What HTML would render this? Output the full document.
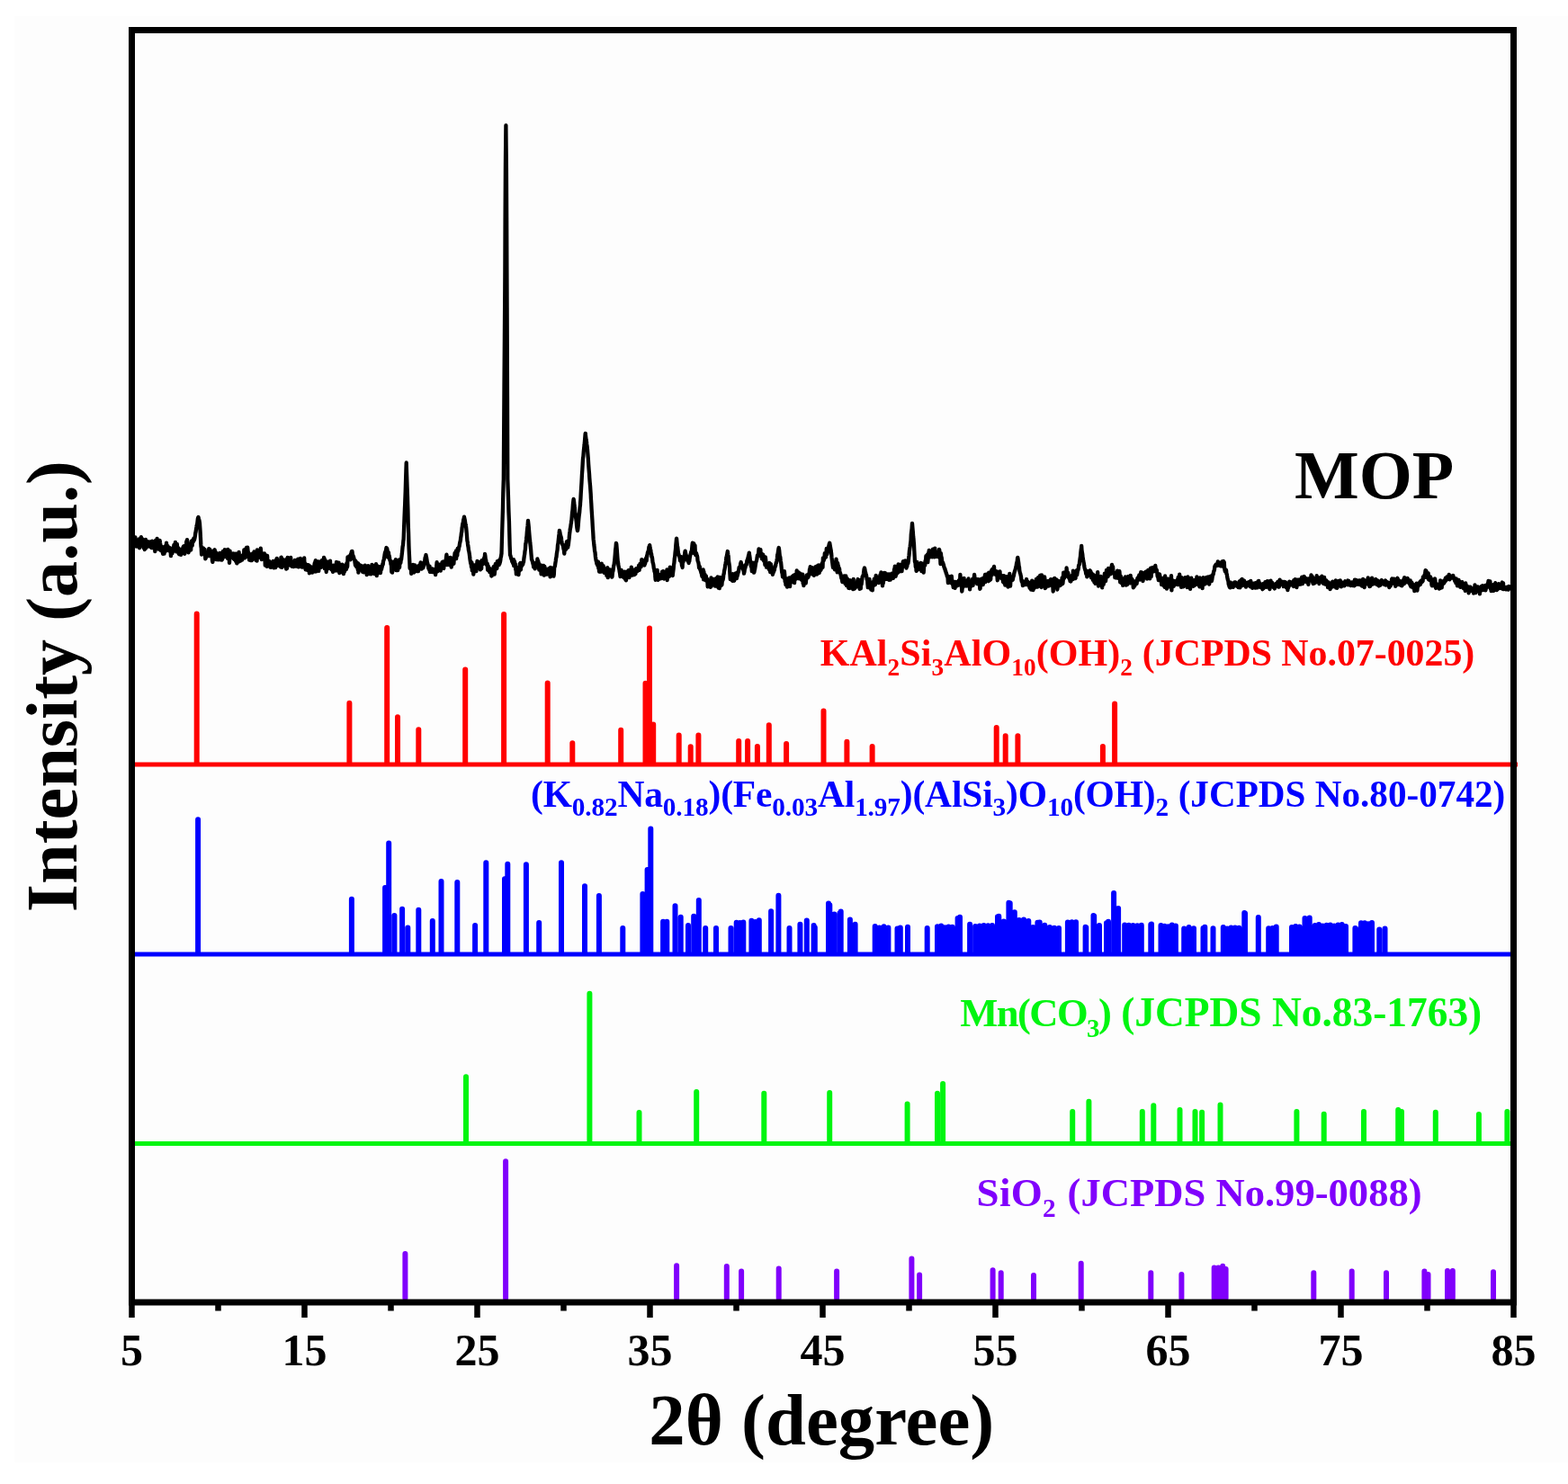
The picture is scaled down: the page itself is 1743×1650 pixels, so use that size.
<!DOCTYPE html>
<html><head><meta charset="utf-8"><style>
html,body{margin:0;padding:0;background:#fff;}
body{width:1743px;height:1650px;overflow:hidden;}
svg{display:block;}
text{font-family:"Liberation Serif","Times New Roman",serif;font-weight:bold;}
</style></head><body>
<svg width="1743" height="1650" viewBox="0 0 1743 1650">
<rect x="0" y="0" width="1743" height="1650" fill="#ffffff"/>
<rect x="16" y="18" width="1727" height="1608" fill="#fdfdfd"/>

<path d="M150 850H1687" stroke="#ff0000" stroke-width="5" fill="none"/>
<path d="M150 1061H1679" stroke="#0000ff" stroke-width="5" fill="none"/>
<path d="M150 1271.5H1679" stroke="#00f510" stroke-width="5" fill="none"/>
<path d="M218.7 847.5V682.6M388.4 847.5V781.8M430.2 847.5V698.1M442.0 847.5V797.2M465.3 847.5V811.3M517.2 847.5V744.6M560.1 847.5V683.0M608.7 847.5V759.4M636.3 847.5V826.2M690.2 847.5V811.7M717.5 847.5V759.7M722.0 847.5V698.5M726.2 847.5V805.5M754.7 847.5V817.5M767.7 847.5V830.3M776.4 847.5V817.5M821.2 847.5V824.0M831.1 847.5V824.0M841.9 847.5V830.0M854.8 847.5V806.3M874.1 847.5V827.0M915.5 847.5V790.5M941.4 847.5V824.8M969.6 847.5V830.0M1107.7 847.5V809.0M1117.7 847.5V818.2M1131.4 847.5V818.2M1225.9 847.5V830.0M1239.1 847.5V782.6" stroke="#ff0000" stroke-width="6" stroke-linecap="round" fill="none"/>
<path d="M220.1 1058.5V911.2M390.9 1058.5V999.8M428.1 1058.5V987.0M432.2 1058.5V937.4M438.4 1058.5V1018.0M447.1 1058.5V1010.7M453.3 1058.5V1031.4M465.3 1058.5V1011.8M480.8 1058.5V1024.0M490.5 1058.5V980.0M508.3 1058.5V981.0M528.1 1058.5V1029.0M540.3 1058.5V959.2M561.0 1058.5V977.3M564.3 1058.5V960.8M584.9 1058.5V961.2M599.2 1058.5V1025.9M624.0 1058.5V959.2M650.0 1058.5V985.2M665.9 1058.5V996.0M692.3 1058.5V1032.0M714.4 1058.5V993.9M719.6 1058.5V967.0M723.3 1058.5V921.6M737.1 1058.5V1024.8M741.3 1058.5V1024.8M750.5 1058.5V1007.3M756.7 1058.5V1019.7M765.0 1058.5V1029.0M771.2 1058.5V1018.7M776.8 1058.5V1001.0M784.2 1058.5V1032.0M796.0 1058.5V1032.0M812.5 1058.5V1032.0M818.7 1058.5V1025.8M822.5 1058.5V1025.9M826.3 1058.5V1025.4M835.4 1058.5V1023.7M839.6 1058.5V1025.1M843.8 1058.5V1023.2M857.1 1058.5V1013.3M865.4 1058.5V995.7M877.5 1058.5V1031.9M889.4 1058.5V1027.7M896.8 1058.5V1023.6M904.6 1058.5V1028.9M905.8 1058.5V1031.2M921.0 1058.5V1004.6M922.3 1058.5V1006.3M927.4 1058.5V1016.4M933.5 1058.5V1015.2M934.7 1058.5V1013.4M944.9 1058.5V1022.6M950.6 1058.5V1027.7M972.7 1058.5V1030.0M977.6 1058.5V1031.4M982.5 1058.5V1030.2M987.4 1058.5V1031.5M997.5 1058.5V1032.5M1000.8 1058.5V1031.4M1009.0 1058.5V1030.8M1030.7 1058.5V1031.9M1042.0 1058.5V1030.2M1046.2 1058.5V1029.5M1050.3 1058.5V1031.2M1054.4 1058.5V1030.6M1058.6 1058.5V1030.7M1064.6 1058.5V1021.1M1067.0 1058.5V1019.7M1078.1 1058.5V1027.7M1084.2 1058.5V1029.9M1088.9 1058.5V1029.6M1093.6 1058.5V1029.0M1098.3 1058.5V1029.2M1103.0 1058.5V1028.9M1109.0 1058.5V1019.3M1110.3 1058.5V1018.7M1115.8 1058.5V1024.6M1121.4 1058.5V1003.7M1122.7 1058.5V1004.3M1127.8 1058.5V1014.3M1132.8 1058.5V1023.1M1138.0 1058.5V1022.6M1143.3 1058.5V1023.9M1148.3 1058.5V1031.0M1153.4 1058.5V1025.8M1155.7 1058.5V1025.4M1161.3 1058.5V1028.8M1166.9 1058.5V1031.0M1172.0 1058.5V1031.8M1177.0 1058.5V1032.0M1186.9 1058.5V1025.4M1191.5 1058.5V1025.2M1196.0 1058.5V1025.3M1206.6 1058.5V1030.7M1207.3 1058.5V1031.2M1215.5 1058.5V1017.9M1216.2 1058.5V1018.6M1222.0 1058.5V1029.0M1230.0 1058.5V1026.2M1232.0 1058.5V1024.8M1238.1 1058.5V993.0M1243.1 1058.5V1010.0M1250.2 1058.5V1028.6M1254.8 1058.5V1028.8M1259.5 1058.5V1028.9M1264.2 1058.5V1029.2M1268.8 1058.5V1028.7M1279.3 1058.5V1028.1M1280.0 1058.5V1027.4M1290.5 1058.5V1028.9M1294.6 1058.5V1029.7M1298.7 1058.5V1030.3M1302.8 1058.5V1028.4M1306.9 1058.5V1029.6M1316.2 1058.5V1032.4M1321.6 1058.5V1030.9M1327.0 1058.5V1032.2M1337.5 1058.5V1032.0M1339.3 1058.5V1030.8M1348.5 1058.5V1032.3M1359.8 1058.5V1030.9M1364.2 1058.5V1032.5M1368.5 1058.5V1031.5M1372.9 1058.5V1031.4M1377.3 1058.5V1031.7M1383.3 1058.5V1015.1M1384.0 1058.5V1015.5M1398.8 1058.5V1020.0M1410.2 1058.5V1032.3M1414.5 1058.5V1031.9M1418.7 1058.5V1030.4M1436.0 1058.5V1030.9M1440.2 1058.5V1030.0M1444.5 1058.5V1030.5M1450.5 1058.5V1020.9M1455.7 1058.5V1020.4M1461.7 1058.5V1029.0M1466.0 1058.5V1028.1M1470.3 1058.5V1029.4M1474.6 1058.5V1028.8M1478.8 1058.5V1028.4M1483.1 1058.5V1029.5M1487.4 1058.5V1028.6M1491.7 1058.5V1027.9M1496.0 1058.5V1029.9M1506.4 1058.5V1031.9M1507.0 1058.5V1032.2M1513.0 1058.5V1026.3M1517.0 1058.5V1026.3M1521.0 1058.5V1027.3M1525.0 1058.5V1026.0M1533.3 1058.5V1033.4M1539.5 1058.5V1032.6" stroke="#0000ff" stroke-width="6" stroke-linecap="round" fill="none"/>
<path d="M518.0 1269.0V1197.2M655.4 1269.0V1104.7M710.5 1269.0V1237.0M774.2 1269.0V1214.0M849.3 1269.0V1215.7M922.2 1269.0V1215.0M1008.6 1269.0V1227.5M1042.0 1269.0V1215.7M1048.1 1269.0V1205.0M1192.2 1269.0V1236.0M1210.4 1269.0V1224.7M1269.8 1269.0V1236.0M1282.3 1269.0V1229.2M1311.5 1269.0V1234.1M1328.5 1269.0V1236.0M1336.1 1269.0V1236.8M1356.5 1269.0V1228.4M1441.4 1269.0V1236.0M1471.7 1269.0V1238.7M1516.0 1269.0V1236.0M1554.2 1269.0V1234.1M1558.0 1269.0V1236.0M1595.8 1269.0V1236.8M1643.9 1269.0V1239.0M1675.4 1269.0V1236.0" stroke="#00f510" stroke-width="6" stroke-linecap="round" fill="none"/>
<path d="M450.4 1443.5V1394.0M562.1 1443.5V1291.3M752.1 1443.5V1407.2M807.8 1443.5V1408.0M824.1 1443.5V1413.6M865.7 1443.5V1410.6M930.1 1443.5V1413.6M1013.4 1443.5V1399.6M1022.1 1443.5V1417.4M1103.6 1443.5V1412.2M1112.7 1443.5V1415.3M1149.0 1443.5V1418.0M1201.7 1443.5V1404.7M1279.3 1443.5V1415.3M1313.4 1443.5V1417.0M1349.7 1443.5V1409.6M1354.3 1443.5V1409.6M1359.2 1443.5V1407.7M1362.6 1443.5V1411.0M1460.3 1443.5V1415.3M1502.7 1443.5V1413.4M1541.0 1443.5V1415.3M1583.4 1443.5V1413.4M1587.5 1443.5V1417.0M1609.0 1443.5V1413.0M1614.8 1443.5V1413.0M1660.0 1443.5V1414.3" stroke="#8000fc" stroke-width="6" stroke-linecap="round" fill="none"/>
<polyline points="150.0,604.7 150.4,597.5 150.8,605.0 151.2,602.5 151.5,607.6 151.9,605.0 152.3,601.9 152.7,603.3 153.1,604.3 153.5,603.1 153.8,605.7 154.2,608.2 154.6,599.3 155.0,603.9 155.0,609.3 155.4,607.6 155.8,601.4 156.1,599.8 156.5,599.2 156.9,597.1 157.3,605.8 157.7,603.1 158.1,601.9 158.4,599.4 158.8,603.0 159.2,603.3 159.6,609.2 160.0,605.0 160.4,607.1 160.8,611.0 161.1,609.0 161.5,605.7 161.9,599.8 162.0,609.8 162.3,608.3 162.7,605.6 163.1,606.0 163.4,602.6 163.8,602.4 164.2,602.2 164.6,607.1 165.0,607.5 165.4,607.1 165.7,607.3 166.1,606.9 166.5,607.3 166.9,602.4 167.3,606.5 167.7,608.4 168.0,606.3 168.4,609.0 168.8,604.3 169.2,601.6 169.6,609.2 170.0,604.9 170.0,608.3 170.4,608.5 170.7,609.3 171.1,608.4 171.5,606.2 171.9,603.4 172.3,613.2 172.7,608.0 173.0,600.9 173.4,603.1 173.8,602.4 174.2,605.3 174.6,598.8 175.0,606.3 175.3,610.2 175.7,606.9 176.1,610.6 176.5,608.4 176.9,601.1 177.3,609.2 177.6,600.9 178.0,603.6 178.4,605.9 178.8,612.1 179.2,609.3 179.6,609.1 180.0,607.8 180.0,611.9 180.3,612.0 180.7,613.9 181.1,615.8 181.5,611.7 181.9,610.7 182.3,610.7 182.6,615.6 183.0,609.0 183.4,607.5 183.8,613.3 184.2,610.5 184.6,607.5 184.9,606.6 185.0,603.7 185.3,610.7 185.7,607.3 186.1,611.4 186.5,607.1 186.9,610.5 187.2,611.7 187.6,612.3 188.0,611.9 188.4,612.1 188.8,609.2 189.2,609.4 189.6,611.4 189.9,618.2 190.3,614.5 190.7,611.8 191.0,611.2 191.1,612.8 191.5,615.3 191.9,609.4 192.2,613.4 192.6,610.5 193.0,609.6 193.4,605.8 193.8,606.6 194.2,605.1 194.5,609.2 194.9,602.8 195.0,610.9 195.3,610.1 195.7,610.0 196.1,613.4 196.5,610.9 196.8,604.9 197.2,610.7 197.6,612.0 198.0,609.8 198.4,609.2 198.8,615.8 199.2,616.2 199.5,613.0 199.9,613.2 200.0,612.2 200.3,612.8 200.7,613.5 201.1,616.8 201.5,610.9 201.8,611.3 202.2,615.6 202.6,612.4 203.0,612.4 203.0,614.6 203.4,608.7 203.8,608.7 204.1,607.4 204.5,607.2 204.9,614.2 205.3,615.7 205.7,611.0 206.1,609.8 206.4,612.2 206.8,612.4 207.0,608.5 207.2,602.1 207.6,607.1 208.0,600.2 208.4,608.0 208.8,605.9 209.1,607.1 209.5,614.4 209.9,611.6 210.3,608.7 210.7,607.6 211.1,607.8 211.4,606.5 211.8,604.9 212.2,611.5 212.6,602.0 213.0,603.3 213.0,604.2 213.4,606.1 213.7,606.6 214.1,600.7 214.5,602.5 214.9,602.2 215.3,598.7 215.7,600.9 216.0,600.0 216.0,600.1 216.4,598.6 216.8,596.5 217.2,592.9 217.6,591.4 218.0,588.6 218.4,586.0 218.5,585.0 218.7,584.1 219.1,583.3 219.5,579.9 219.9,576.6 220.3,575.6 220.5,575.0 220.7,575.8 221.0,578.2 221.4,578.2 221.8,580.7 222.0,582.0 222.2,585.1 222.6,591.0 223.0,598.6 223.3,605.2 223.5,608.0 223.7,608.5 224.1,616.7 224.5,610.7 224.9,613.5 225.3,611.6 225.6,609.3 226.0,609.5 226.4,615.1 226.8,613.5 227.2,612.5 227.6,610.8 228.0,615.3 228.0,615.4 228.3,621.4 228.7,620.6 229.1,618.1 229.5,615.6 229.9,615.9 230.3,614.1 230.6,616.4 231.0,617.5 231.4,618.1 231.8,616.8 232.0,614.4 232.2,610.2 232.6,615.3 232.9,618.1 233.3,611.0 233.7,614.8 234.1,616.3 234.5,616.5 234.9,617.9 235.2,616.1 235.6,617.1 236.0,623.5 236.4,624.9 236.8,614.9 237.2,612.3 237.6,618.4 237.9,614.1 238.3,612.8 238.7,611.3 239.1,615.8 239.5,615.0 239.9,613.9 240.0,618.2 240.2,622.1 240.6,620.1 241.0,621.3 241.4,616.9 241.8,620.5 242.2,619.5 242.5,622.4 242.9,619.4 243.3,617.3 243.7,620.2 244.1,615.0 244.5,618.9 244.8,622.3 245.2,618.0 245.6,620.6 246.0,615.2 246.4,622.6 246.8,621.2 247.0,614.4 247.2,621.8 247.5,618.5 247.9,613.0 248.3,613.3 248.7,619.2 249.1,614.8 249.5,619.1 249.8,611.1 250.2,616.1 250.6,617.3 251.0,613.7 251.4,617.5 251.8,613.3 252.1,616.8 252.5,617.1 252.9,620.8 253.3,611.0 253.7,617.8 254.1,619.5 254.4,614.1 254.8,618.7 255.0,625.9 255.2,622.6 255.6,612.6 256.0,620.5 256.4,616.3 256.8,619.3 257.1,617.2 257.5,618.7 257.9,617.2 258.3,619.5 258.7,619.0 259.1,615.4 259.4,617.5 259.8,621.4 260.2,616.3 260.6,622.0 261.0,615.6 261.4,620.5 261.7,618.2 262.0,624.0 262.1,616.6 262.5,616.9 262.9,615.8 263.3,626.4 263.7,623.0 264.0,618.4 264.0,619.3 264.4,617.1 264.8,624.9 265.2,621.7 265.6,613.8 266.0,619.2 266.4,624.0 266.7,622.2 267.1,623.7 267.5,619.0 267.9,620.5 268.3,620.8 268.7,619.7 269.0,622.7 269.4,621.7 269.8,621.2 270.0,617.1 270.2,616.9 270.6,619.9 271.0,620.0 271.3,611.5 271.7,617.7 272.1,620.4 272.5,617.6 272.9,612.6 273.3,617.8 273.6,610.1 274.0,609.0 274.0,619.0 274.4,613.8 274.8,613.5 275.2,608.7 275.6,613.0 276.0,614.1 276.3,619.2 276.7,615.4 277.1,622.7 277.5,619.4 277.9,616.8 278.0,616.2 278.3,620.2 278.6,623.0 279.0,616.8 279.4,622.5 279.8,623.0 280.2,622.7 280.6,620.3 280.9,615.4 281.3,621.0 281.7,618.6 282.1,620.2 282.5,613.3 282.9,617.2 283.2,618.7 283.6,615.3 284.0,619.0 284.4,622.8 284.8,619.0 285.2,616.3 285.6,623.6 285.9,611.5 286.3,616.1 286.7,620.1 287.1,617.0 287.5,612.6 287.9,618.6 288.2,618.3 288.6,614.1 289.0,619.7 289.0,618.1 289.4,619.3 289.8,609.6 290.2,613.7 290.5,620.7 290.9,622.0 291.3,619.3 291.7,615.5 292.1,617.3 292.5,616.2 292.8,621.6 293.2,618.5 293.6,621.7 294.0,615.5 294.4,617.8 294.8,628.7 295.2,624.6 295.5,625.8 295.9,617.5 296.3,623.3 296.7,629.9 297.0,619.4 297.1,617.8 297.5,624.4 297.8,624.1 298.2,624.5 298.6,624.0 299.0,624.4 299.4,624.0 299.8,628.9 300.1,629.2 300.5,630.6 300.9,625.7 301.3,630.8 301.7,627.4 302.1,627.2 302.4,629.6 302.8,627.3 303.2,627.2 303.6,624.0 304.0,628.6 304.4,631.3 304.8,627.5 305.0,628.9 305.1,623.8 305.5,624.4 305.9,629.8 306.3,631.0 306.7,625.8 307.1,622.1 307.4,624.3 307.8,620.8 308.2,622.8 308.6,628.9 309.0,625.5 309.4,625.3 309.7,628.9 310.1,625.0 310.5,625.9 310.9,627.9 311.3,629.3 311.7,625.0 312.0,630.2 312.0,630.5 312.4,619.8 312.8,619.7 313.2,625.9 313.6,630.8 314.0,626.9 314.4,629.6 314.7,627.6 315.1,627.1 315.5,622.4 315.9,622.6 316.3,624.6 316.7,626.1 317.0,627.0 317.4,627.5 317.8,626.3 318.2,632.5 318.6,631.9 319.0,632.0 319.0,621.3 319.3,630.4 319.7,619.8 320.1,627.6 320.5,625.5 320.9,628.5 321.3,625.4 321.6,625.0 322.0,627.0 322.4,627.7 322.8,624.5 323.2,620.0 323.6,624.5 324.0,629.4 324.3,626.1 324.7,629.8 325.1,627.1 325.5,625.5 325.9,629.0 326.3,630.0 326.6,625.7 327.0,625.0 327.4,628.7 327.8,623.0 328.2,623.4 328.6,629.5 328.9,629.1 329.3,626.1 329.7,626.3 330.0,629.7 330.1,624.0 330.5,626.5 330.9,627.2 331.2,621.6 331.6,630.4 332.0,630.0 332.4,629.4 332.8,622.0 333.2,621.7 333.6,622.1 333.9,620.9 334.3,630.1 334.7,621.8 335.1,624.4 335.5,625.4 335.9,628.5 336.2,630.6 336.6,624.2 337.0,629.5 337.4,628.1 337.8,621.3 338.0,624.3 338.2,620.4 338.5,630.1 338.9,626.0 339.3,631.3 339.7,633.4 340.1,628.5 340.5,628.5 340.8,631.7 341.2,627.9 341.6,633.8 342.0,630.5 342.4,629.1 342.8,628.2 343.2,632.6 343.5,628.7 343.9,637.3 344.0,629.9 344.3,632.3 344.7,629.7 345.1,635.7 345.5,633.3 345.8,635.0 346.2,633.5 346.6,630.6 347.0,636.7 347.4,634.9 347.8,633.5 348.1,633.6 348.5,633.0 348.9,632.7 349.3,630.1 349.7,626.2 350.1,635.7 350.4,625.0 350.8,623.1 351.2,628.3 351.6,635.4 352.0,632.2 352.4,627.5 352.8,629.6 353.1,628.7 353.5,624.3 353.9,629.6 354.0,630.3 354.3,634.8 354.7,627.4 355.1,624.6 355.4,625.4 355.8,630.4 356.2,627.6 356.6,629.6 357.0,630.8 357.4,627.6 357.7,623.1 358.1,626.8 358.5,628.1 358.9,628.3 359.3,630.3 359.7,623.0 360.0,619.9 360.4,620.6 360.8,632.2 361.2,622.3 361.6,626.4 362.0,626.0 362.4,628.9 362.7,636.0 363.1,624.6 363.5,626.0 363.9,624.6 364.0,628.8 364.3,630.5 364.7,626.0 365.0,632.2 365.4,631.1 365.8,628.3 366.2,626.7 366.6,627.0 367.0,623.7 367.3,631.1 367.7,628.6 368.1,629.0 368.5,633.3 368.9,630.6 369.3,629.4 369.6,632.7 370.0,635.8 370.4,628.7 370.8,634.2 371.2,628.9 371.6,632.3 372.0,632.6 372.3,628.7 372.7,632.9 373.1,634.5 373.5,629.8 373.9,629.6 374.0,624.8 374.3,634.4 374.6,629.1 375.0,626.3 375.4,633.2 375.8,627.2 376.2,630.0 376.6,625.7 376.9,634.4 377.3,637.0 377.7,629.4 378.1,629.0 378.5,629.3 378.9,630.2 379.2,632.6 379.6,636.1 380.0,630.9 380.0,634.3 380.4,627.6 380.8,636.7 381.2,633.3 381.6,631.4 381.9,638.2 382.3,632.2 382.7,636.0 383.1,634.7 383.5,634.2 383.9,628.5 384.0,631.7 384.2,630.2 384.6,628.8 385.0,632.9 385.4,626.2 385.8,630.8 386.2,629.6 386.5,619.3 386.9,623.1 387.0,622.5 387.3,621.6 387.7,622.0 388.1,618.4 388.5,618.8 388.8,618.3 389.2,618.7 389.5,619.8 389.6,622.4 390.0,616.0 390.4,615.8 390.8,613.3 391.2,613.4 391.2,613.0 391.5,613.0 391.9,616.4 392.3,617.7 392.7,618.3 393.0,620.0 393.1,619.3 393.5,620.8 393.8,621.8 394.2,622.3 394.6,625.7 395.0,628.4 395.0,626.0 395.4,623.9 395.8,625.4 396.1,630.0 396.5,630.6 396.9,625.6 397.3,626.5 397.7,633.4 398.1,626.3 398.4,636.7 398.8,630.0 399.0,632.0 399.2,631.2 399.6,630.2 400.0,630.5 400.4,628.4 400.8,633.5 401.1,630.4 401.5,630.5 401.9,630.4 402.0,630.0 402.3,629.2 402.7,632.1 403.1,635.8 403.4,633.4 403.8,631.2 404.2,636.4 404.6,634.5 405.0,632.6 405.4,630.9 405.7,628.7 406.1,634.3 406.5,631.8 406.9,630.4 407.3,630.2 407.7,639.2 408.0,634.2 408.4,635.8 408.8,633.3 409.2,629.1 409.6,632.6 410.0,635.3 410.0,631.9 410.4,636.8 410.7,638.0 411.1,633.5 411.5,635.9 411.9,633.2 412.3,638.3 412.7,633.6 413.0,637.3 413.4,628.0 413.8,636.3 414.2,630.3 414.6,629.9 415.0,631.9 415.3,636.1 415.7,631.2 416.1,638.2 416.5,635.8 416.9,633.1 417.0,628.3 417.3,632.4 417.6,630.5 418.0,627.2 418.4,634.6 418.8,640.1 419.2,632.0 419.6,636.4 420.0,637.4 420.3,629.7 420.7,633.0 421.1,635.1 421.5,634.5 421.9,630.9 422.3,635.0 422.6,632.3 423.0,637.0 423.4,629.9 423.8,633.5 424.0,633.0 424.2,632.3 424.6,630.3 424.9,629.6 425.3,627.0 425.7,627.6 426.1,623.6 426.5,623.0 426.9,621.6 427.0,620.0 427.2,619.7 427.6,616.6 428.0,614.5 428.4,613.4 428.8,612.8 429.2,610.6 429.5,609.0 429.6,609.9 429.9,612.7 430.3,610.0 430.7,612.3 431.1,619.6 431.5,615.8 431.9,614.1 432.0,615.0 432.2,617.8 432.6,617.6 433.0,619.4 433.4,623.0 433.8,622.9 434.2,624.5 434.5,627.6 434.7,627.0 434.9,626.0 435.3,636.0 435.7,628.7 436.1,636.6 436.5,627.6 436.8,628.3 437.2,624.7 437.6,625.5 438.0,624.5 438.4,625.9 438.8,629.4 439.2,623.9 439.5,624.7 439.9,622.1 440.3,634.2 440.7,629.6 441.1,630.1 441.5,631.1 441.8,634.2 442.0,630.6 442.2,634.1 442.6,632.3 443.0,629.0 443.4,628.2 443.8,622.5 444.1,631.0 444.5,622.9 444.9,623.2 445.3,626.0 445.7,622.8 446.0,622.0 446.1,622.1 446.4,619.3 446.8,616.1 447.2,612.1 447.6,607.7 448.0,606.1 448.4,600.9 448.6,600.0 448.8,595.5 449.1,586.6 449.5,576.3 449.9,566.6 450.2,560.0 450.3,556.8 450.7,546.7 451.1,532.7 451.4,523.5 451.7,514.5 451.8,518.5 452.2,529.9 452.6,541.8 453.0,552.3 453.2,560.0 453.4,566.2 453.7,581.5 454.1,592.3 454.5,607.3 454.6,610.0 454.9,616.4 455.3,624.2 455.6,632.0 455.7,631.5 456.0,631.8 456.4,628.8 456.8,629.7 457.2,637.9 457.6,633.8 458.0,634.7 458.4,634.6 458.7,633.9 459.1,627.9 459.5,631.3 459.9,635.9 460.3,636.5 460.7,628.9 461.0,629.6 461.4,628.5 461.8,634.4 462.2,633.8 462.6,633.3 463.0,631.1 463.3,635.1 463.7,633.4 464.1,630.4 464.5,634.3 464.6,631.2 464.9,635.2 465.3,633.3 465.6,629.0 466.0,633.1 466.4,631.7 466.8,627.9 467.2,627.6 467.6,625.4 468.0,625.6 468.3,630.6 468.7,632.6 469.1,626.7 469.5,629.7 469.9,631.3 470.3,631.4 470.6,630.5 471.0,628.0 471.0,629.4 471.4,627.1 471.8,624.6 472.2,623.5 472.6,620.0 472.9,620.3 473.3,618.0 473.5,617.0 473.7,618.7 474.1,620.0 474.5,622.6 474.9,625.5 475.2,625.9 475.6,627.7 476.0,630.0 476.0,629.9 476.4,632.1 476.8,631.0 477.2,633.7 477.6,629.7 477.9,635.8 478.3,635.9 478.7,634.6 479.1,634.7 479.5,634.1 479.9,635.6 480.2,635.7 480.6,632.3 481.0,636.2 481.0,635.3 481.4,633.5 481.8,633.0 482.2,635.4 482.5,635.5 482.9,633.7 483.3,633.4 483.7,634.3 484.1,639.0 484.5,634.8 484.8,634.8 485.2,629.7 485.6,625.2 486.0,631.5 486.4,635.4 486.8,631.1 487.2,630.1 487.5,627.4 487.9,633.4 488.3,628.2 488.7,628.6 489.1,632.2 489.5,630.6 489.8,634.7 490.2,627.8 490.6,631.7 491.0,629.6 491.4,625.4 491.4,628.0 491.8,626.6 492.1,624.7 492.5,626.3 492.9,624.6 493.3,632.0 493.7,624.9 494.1,625.0 494.4,627.1 494.8,624.8 495.2,625.3 495.6,622.8 496.0,620.0 496.4,616.7 496.8,619.0 497.0,628.2 497.1,624.1 497.5,624.3 497.9,621.7 498.3,623.3 498.7,626.1 499.1,621.4 499.4,622.3 499.8,622.1 500.2,628.4 500.6,620.0 501.0,626.0 501.4,621.7 501.7,630.6 502.0,622.8 502.1,624.0 502.5,628.1 502.9,627.1 503.3,627.2 503.7,620.4 504.0,626.1 504.4,626.7 504.8,620.7 505.2,618.9 505.6,614.9 506.0,620.4 506.4,618.1 506.7,616.0 507.0,612.4 507.1,621.2 507.5,618.2 507.9,617.0 508.3,617.7 508.7,609.8 509.0,613.2 509.3,612.8 509.4,611.8 509.8,611.0 510.2,608.1 510.6,607.5 511.0,604.5 511.3,603.4 511.7,601.5 512.0,600.0 512.1,598.4 512.5,596.2 512.9,592.6 513.3,591.1 513.6,587.0 514.0,585.0 514.0,584.4 514.4,582.0 514.8,581.2 515.2,577.8 515.6,576.9 516.0,574.6 516.0,575.0 516.3,576.1 516.7,577.9 517.1,580.6 517.5,583.3 517.9,583.6 518.0,585.0 518.3,587.8 518.6,591.0 519.0,595.9 519.4,601.4 519.8,602.7 520.0,605.0 520.2,606.5 520.6,608.7 520.9,611.6 521.3,613.0 521.7,615.3 522.1,618.4 522.5,622.0 522.9,624.4 523.0,625.0 523.2,626.4 523.6,626.2 524.0,630.5 524.4,625.3 524.8,634.4 525.2,630.8 525.6,630.2 525.9,633.6 526.3,638.7 526.7,632.6 527.1,631.7 527.2,630.9 527.5,628.3 527.9,630.5 528.2,631.3 528.6,630.2 529.0,631.6 529.4,635.2 529.8,631.1 530.2,627.5 530.5,623.9 530.9,629.1 531.3,626.6 531.7,628.6 532.0,631.2 532.1,631.5 532.5,625.2 532.8,627.6 533.2,630.1 533.6,629.7 534.0,633.4 534.4,628.2 534.8,624.4 535.2,632.2 535.5,623.1 535.9,623.5 536.3,626.1 536.7,623.1 537.0,625.0 537.1,627.0 537.5,623.7 537.8,622.4 538.2,620.1 538.6,620.2 539.0,617.0 539.0,616.0 539.4,618.1 539.8,622.2 540.1,622.3 540.5,625.1 540.9,627.9 541.0,628.0 541.3,628.2 541.7,626.6 542.1,633.6 542.4,633.7 542.8,629.3 543.2,634.4 543.6,631.7 544.0,631.6 544.4,636.2 544.8,635.5 545.1,635.3 545.5,637.1 545.9,633.2 546.3,640.5 546.6,634.3 546.7,640.2 547.1,635.6 547.4,633.2 547.8,638.0 548.2,633.9 548.6,630.3 549.0,629.8 549.4,633.5 549.7,638.6 550.1,634.8 550.5,631.3 550.9,626.8 551.0,629.8 551.3,630.9 551.7,631.2 552.0,626.9 552.4,632.0 552.8,624.1 553.2,624.7 553.6,628.4 554.0,628.1 554.4,625.6 554.7,628.2 555.1,622.7 555.5,626.7 555.6,625.4 555.9,625.1 556.3,622.9 556.7,619.5 557.0,619.0 557.4,615.9 557.5,616.0 557.8,605.2 558.2,590.7 558.6,577.3 559.0,563.7 559.3,548.2 559.7,535.4 559.8,533.0 560.1,489.0 560.5,429.6 560.9,375.5 561.3,320.0 561.4,300.0 561.6,244.8 561.9,189.0 562.0,175.7 562.4,139.5 562.4,142.0 562.8,179.0 562.9,189.0 563.2,249.6 563.4,300.0 563.6,341.7 564.0,441.6 564.3,533.0 564.3,532.6 564.7,544.4 565.1,556.4 565.5,569.6 565.9,578.9 566.3,593.6 566.6,605.8 567.0,616.0 567.0,616.9 567.4,617.7 567.8,619.3 568.2,621.0 568.6,621.9 568.9,622.4 569.3,624.6 569.7,624.6 570.1,626.1 570.5,626.7 570.5,627.0 570.9,622.1 571.2,629.1 571.6,628.2 572.0,624.2 572.4,629.4 572.8,626.9 573.2,633.3 573.6,633.0 573.9,638.3 574.3,633.2 574.7,635.5 575.1,631.4 575.5,632.2 575.9,634.7 576.2,636.4 576.5,639.0 576.6,633.4 577.0,635.4 577.4,633.1 577.8,626.9 578.2,628.0 578.5,626.0 578.9,633.5 579.3,626.6 579.7,629.6 580.1,628.9 580.5,626.2 580.8,625.7 581.2,627.6 581.6,625.0 582.0,625.0 582.4,621.1 582.8,618.2 583.2,616.2 583.5,612.8 583.9,610.8 584.3,604.7 584.7,603.4 585.0,600.0 585.1,598.4 585.5,596.2 585.8,591.6 586.2,587.5 586.6,584.2 587.0,578.8 587.0,579.0 587.4,582.5 587.8,586.3 588.1,590.4 588.5,595.2 588.9,599.6 589.0,600.0 589.3,603.6 589.7,607.1 590.1,611.0 590.4,615.1 590.8,619.4 591.0,622.0 591.2,622.4 591.6,623.4 592.0,624.7 592.4,626.4 592.8,627.9 593.0,628.4 593.1,630.5 593.5,626.2 593.9,629.2 594.3,631.4 594.7,632.3 595.1,630.1 595.4,628.7 595.8,627.1 596.2,625.4 596.6,626.1 597.0,626.4 597.4,621.5 597.7,629.3 598.1,623.4 598.5,625.5 598.8,625.7 598.9,630.1 599.3,633.6 599.7,628.5 600.0,629.9 600.4,629.0 600.8,628.3 601.2,630.4 601.6,638.3 602.0,629.5 602.4,630.7 602.7,628.9 603.1,632.6 603.5,629.1 603.9,632.3 604.3,629.0 604.7,639.7 605.0,636.2 605.4,629.8 605.8,635.7 606.2,633.3 606.3,632.5 606.6,637.1 607.0,632.8 607.3,637.2 607.7,634.2 608.1,638.7 608.5,635.8 608.9,636.5 609.3,636.5 609.6,634.2 610.0,632.1 610.4,634.9 610.8,636.1 611.2,632.9 611.6,641.3 612.0,639.0 612.0,630.8 612.3,636.5 612.7,633.5 613.1,635.6 613.5,631.8 613.9,640.3 614.3,634.0 614.6,636.0 615.0,633.7 615.4,640.7 615.8,638.8 616.2,630.4 616.6,630.3 616.7,630.0 616.9,629.5 617.3,626.4 617.7,624.0 618.1,620.8 618.5,619.2 618.9,615.3 619.0,615.0 619.2,613.7 619.6,611.3 620.0,606.0 620.4,604.1 620.8,600.2 621.2,596.6 621.6,593.3 621.9,589.9 622.0,590.0 622.3,591.8 622.7,593.7 623.1,595.6 623.5,596.6 623.9,598.1 624.2,600.7 624.6,603.4 625.0,605.0 625.0,604.3 625.4,605.9 625.8,605.8 626.2,608.4 626.5,610.5 626.9,610.9 627.0,612.8 627.3,615.5 627.7,610.3 628.1,609.3 628.5,608.0 628.8,608.6 629.2,610.9 629.6,605.3 630.0,602.2 630.4,606.1 630.8,606.9 631.2,608.7 631.5,605.1 631.6,607.0 631.9,605.1 632.3,601.6 632.7,598.2 633.1,593.6 633.5,590.7 633.8,588.1 634.2,586.5 634.6,583.2 635.0,581.2 635.0,580.0 635.4,578.1 635.8,573.3 636.1,569.7 636.5,566.9 636.9,560.8 637.3,557.3 637.6,555.0 637.7,555.3 638.1,558.3 638.4,561.4 638.8,564.3 639.2,569.1 639.6,570.9 640.0,574.1 640.0,575.0 640.4,577.2 640.8,580.7 641.1,584.8 641.5,587.6 641.9,589.8 642.0,590.0 642.3,588.6 642.7,584.5 643.1,579.4 643.4,576.1 643.8,572.3 644.2,569.7 644.6,564.2 645.0,561.3 645.0,560.0 645.4,555.1 645.7,549.1 646.1,542.5 646.5,536.3 646.9,528.4 647.3,522.7 647.7,515.3 648.0,510.0 648.0,510.0 648.4,507.3 648.8,501.9 649.2,497.9 649.6,494.6 650.0,490.2 650.4,485.4 650.7,482.0 650.7,482.1 651.1,485.2 651.5,488.5 651.9,490.6 652.3,494.1 652.7,496.8 653.0,500.0 653.0,499.6 653.4,505.0 653.8,509.9 654.2,516.4 654.6,521.8 655.0,526.5 655.3,531.5 655.7,536.4 656.1,540.7 656.5,546.7 656.7,549.5 656.9,554.1 657.3,559.9 657.6,565.8 658.0,571.8 658.4,578.2 658.8,585.5 659.2,591.4 659.6,598.6 659.7,600.0 660.0,602.3 660.3,605.6 660.7,608.6 661.1,612.9 661.5,614.1 661.9,618.8 662.3,621.4 662.6,623.0 662.6,623.5 663.0,624.2 663.4,626.8 663.8,626.4 664.2,628.7 664.6,627.9 664.9,624.6 665.3,632.0 665.7,631.7 666.1,635.5 666.5,633.2 666.9,628.4 667.0,635.8 667.2,629.3 667.6,632.2 668.0,635.7 668.4,633.9 668.8,626.6 669.2,631.0 669.6,629.0 669.9,634.5 670.3,634.7 670.7,629.2 671.1,635.3 671.5,636.8 671.6,636.8 671.9,633.2 672.2,634.1 672.6,632.9 673.0,632.8 673.4,637.2 673.8,636.9 674.2,639.6 674.5,637.3 674.9,634.1 675.3,631.2 675.7,642.2 676.1,638.7 676.5,637.2 676.8,635.1 677.2,634.5 677.6,638.0 678.0,633.4 678.4,639.3 678.8,640.3 679.2,637.8 679.5,633.8 679.9,638.9 680.3,641.6 680.5,641.0 680.7,638.8 681.1,635.6 681.5,634.6 681.8,632.2 682.2,629.0 682.6,627.9 683.0,624.5 683.0,625.0 683.4,621.0 683.8,616.1 684.1,611.6 684.5,608.8 684.9,603.9 685.0,604.0 685.3,605.3 685.7,610.2 686.1,615.7 686.4,619.9 686.8,624.4 687.0,625.0 687.2,627.1 687.6,629.8 688.0,631.4 688.4,633.2 688.8,636.1 689.1,637.6 689.5,641.0 689.5,640.6 689.9,635.7 690.3,636.8 690.7,633.9 691.1,637.3 691.4,640.4 691.8,638.8 692.2,636.4 692.6,638.1 693.0,641.8 693.4,639.4 693.7,637.5 694.1,635.6 694.5,637.0 694.9,643.9 695.3,641.2 695.7,642.6 696.0,645.3 696.4,642.0 696.8,641.4 697.0,637.1 697.2,635.3 697.6,640.9 698.0,637.8 698.4,639.0 698.7,634.2 699.1,635.9 699.5,642.1 699.9,633.9 700.3,636.4 700.7,639.3 701.0,635.5 701.4,636.5 701.8,630.7 702.2,639.5 702.6,636.7 703.0,639.5 703.3,635.5 703.7,634.4 704.1,637.9 704.4,634.8 704.5,633.6 704.9,639.2 705.3,637.4 705.6,636.0 706.0,637.2 706.4,638.1 706.8,635.5 707.2,632.1 707.6,633.4 708.0,634.6 708.3,635.2 708.7,634.4 709.1,631.8 709.5,631.5 709.9,633.6 710.0,628.9 710.3,632.3 710.6,634.0 711.0,629.7 711.4,627.0 711.8,628.7 712.2,627.0 712.6,630.4 712.9,626.6 713.3,622.1 713.7,622.6 714.1,626.6 714.5,626.3 714.9,625.5 714.9,623.1 715.2,627.4 715.6,626.3 716.0,627.1 716.4,628.5 716.8,624.9 717.2,626.6 717.6,622.1 717.9,621.0 718.3,620.4 718.7,623.5 719.0,618.0 719.1,619.5 719.5,617.5 719.9,614.5 720.2,613.8 720.6,613.0 721.0,611.4 721.4,608.2 721.8,607.6 722.2,606.1 722.3,607.0 722.5,608.7 722.9,610.5 723.3,611.5 723.7,615.6 724.1,615.7 724.5,619.5 724.8,619.3 725.0,620.0 725.2,621.7 725.6,625.4 726.0,626.3 726.4,628.4 726.8,631.8 727.2,632.7 727.5,635.4 727.9,636.0 728.3,639.0 728.3,640.7 728.7,644.8 729.1,641.7 729.5,643.6 729.8,639.2 730.2,638.4 730.6,633.9 731.0,640.8 731.4,644.9 731.8,642.9 732.1,642.3 732.5,641.4 732.9,639.4 733.3,639.2 733.7,643.6 734.1,640.2 734.4,641.9 734.8,639.8 735.0,639.9 735.2,643.0 735.6,639.2 736.0,635.7 736.4,636.5 736.8,637.0 737.1,635.2 737.5,638.2 737.9,640.7 738.3,643.5 738.7,642.6 739.1,636.2 739.4,641.7 739.8,638.6 740.2,638.9 740.6,636.9 741.0,639.6 741.4,633.3 741.7,645.1 741.7,638.5 742.1,642.9 742.5,637.6 742.9,639.3 743.3,635.2 743.7,638.7 744.0,640.9 744.4,639.3 744.8,630.7 745.2,638.7 745.6,633.7 746.0,636.7 746.4,637.4 746.7,635.3 747.1,638.3 747.5,639.8 747.7,640.0 747.9,638.3 748.3,635.1 748.7,632.0 749.0,628.1 749.4,625.9 749.8,621.0 750.0,620.0 750.2,619.0 750.6,614.0 751.0,610.9 751.3,606.2 751.7,602.1 752.0,599.0 752.1,598.7 752.5,603.0 752.9,607.1 753.3,608.6 753.6,611.6 754.0,615.0 754.0,614.9 754.4,616.5 754.8,617.8 755.2,618.1 755.6,620.5 756.0,623.2 756.3,623.7 756.7,619.0 757.1,621.3 757.5,624.7 757.9,627.6 758.0,629.2 758.3,625.8 758.6,631.0 759.0,622.6 759.4,624.9 759.8,623.3 760.2,622.6 760.6,617.7 760.9,620.7 761.3,614.2 761.7,612.6 761.8,614.0 762.1,614.8 762.5,616.8 762.9,618.3 763.2,618.4 763.6,620.8 764.0,621.5 764.4,623.6 764.8,622.0 765.2,623.8 765.6,625.0 765.6,626.0 765.9,623.9 766.3,624.0 766.7,620.5 767.1,618.3 767.5,616.7 767.9,615.3 768.0,615.0 768.2,613.6 768.6,613.6 769.0,611.6 769.4,607.1 769.8,603.7 770.2,608.4 770.5,606.4 770.8,614.9 770.9,606.7 771.3,604.4 771.7,609.1 772.1,608.4 772.5,606.4 772.8,613.5 773.2,617.1 773.6,614.5 774.0,615.0 774.4,616.4 774.8,618.0 775.2,619.2 775.5,623.0 775.9,624.4 776.3,625.2 776.7,627.5 777.1,631.4 777.5,629.9 777.5,631.0 777.8,629.8 778.2,633.1 778.6,633.8 779.0,635.1 779.4,636.7 779.8,637.5 780.1,639.5 780.5,641.0 780.5,640.1 780.9,640.9 781.3,639.4 781.7,633.5 782.1,644.4 782.4,635.7 782.8,644.0 783.2,642.3 783.6,638.8 784.0,643.0 784.4,645.4 784.8,640.3 785.1,643.0 785.5,643.5 785.9,643.4 786.3,644.8 786.7,652.4 787.1,651.9 787.4,647.9 787.8,648.3 788.2,649.6 788.6,651.7 789.0,652.3 789.4,647.1 789.7,652.8 790.1,646.7 790.5,642.3 790.9,651.8 791.0,645.3 791.3,647.5 791.7,647.1 792.0,645.5 792.4,648.8 792.8,646.0 793.2,644.6 793.6,643.9 794.0,647.3 794.4,644.5 794.7,648.2 795.1,651.7 795.5,650.9 795.9,649.2 796.3,642.9 796.7,649.7 797.0,649.9 797.4,651.7 797.8,641.3 798.2,648.9 798.4,649.0 798.6,653.7 799.0,648.0 799.3,648.7 799.7,654.2 800.1,650.1 800.5,641.8 800.9,647.0 801.3,651.3 801.6,643.6 802.0,649.5 802.4,650.3 802.8,645.8 803.0,646.0 803.2,645.5 803.6,644.6 804.0,642.4 804.3,639.0 804.7,637.9 805.1,634.6 805.5,633.1 805.9,630.9 806.0,630.0 806.3,627.6 806.6,626.4 807.0,623.7 807.4,619.5 807.8,618.5 808.2,616.5 808.6,614.2 808.8,613.0 808.9,613.5 809.3,616.6 809.7,618.5 810.1,624.2 810.5,626.5 810.9,629.3 811.0,630.0 811.2,634.4 811.6,641.1 811.8,644.0 812.0,643.6 812.4,640.8 812.8,638.4 813.2,641.8 813.6,645.1 813.9,641.8 814.3,645.9 814.7,638.1 815.1,641.3 815.5,639.2 815.9,644.5 816.2,645.7 816.6,640.0 817.0,642.8 817.4,641.3 817.8,637.4 818.2,640.0 818.5,637.5 818.9,643.0 819.0,642.0 819.3,641.2 819.7,640.1 820.1,638.4 820.5,635.5 820.8,636.2 821.2,634.3 821.6,630.9 822.0,631.5 822.4,631.0 822.8,630.0 823.2,626.4 823.5,626.3 823.7,625.0 823.9,626.6 824.3,627.7 824.7,628.3 825.1,629.9 825.5,631.6 825.8,632.6 826.2,633.4 826.6,634.5 827.0,637.7 827.0,636.0 827.4,636.2 827.8,633.1 828.1,632.0 828.5,631.1 828.9,627.9 829.3,628.2 829.7,628.0 830.1,625.1 830.4,623.1 830.8,623.6 831.2,621.2 831.6,619.9 832.0,618.0 832.4,616.8 832.7,615.0 832.8,614.6 833.1,617.4 833.5,619.5 833.9,623.5 834.3,625.2 834.7,628.5 835.0,630.0 835.1,628.5 835.4,628.7 835.8,635.0 836.2,627.9 836.6,625.7 837.0,629.2 837.4,631.4 837.7,632.3 838.1,636.7 838.5,635.7 838.7,634.0 838.9,633.7 839.3,631.5 839.7,628.9 840.0,626.9 840.4,624.7 840.8,624.2 841.2,622.2 841.6,619.8 842.0,617.4 842.0,618.0 842.4,617.0 842.7,616.8 843.1,615.4 843.5,610.3 843.9,613.7 844.3,611.9 844.6,612.3 844.7,613.5 845.0,614.8 845.4,611.2 845.8,618.6 846.2,615.6 846.6,619.4 847.0,619.6 847.0,621.6 847.3,620.5 847.7,616.9 848.1,616.5 848.5,618.6 848.9,622.8 849.3,623.9 849.6,622.5 850.0,621.8 850.4,628.0 850.6,622.8 850.8,619.4 851.2,622.4 851.6,626.0 852.0,630.7 852.3,630.6 852.7,629.2 853.1,630.5 853.5,629.1 853.9,627.7 854.3,628.9 854.6,632.2 855.0,633.3 855.0,627.0 855.4,626.0 855.8,629.7 856.2,636.1 856.6,627.5 856.9,627.3 857.3,633.1 857.7,635.4 858.1,633.0 858.5,635.0 858.9,638.8 859.0,638.4 859.2,636.7 859.6,636.8 860.0,635.8 860.4,634.6 860.8,633.8 861.2,631.4 861.6,629.1 861.9,629.8 862.3,628.2 862.7,625.8 863.0,625.0 863.1,625.5 863.5,623.4 863.9,620.5 864.2,616.8 864.6,615.9 865.0,613.0 865.4,610.2 865.7,609.0 865.8,609.5 866.2,611.8 866.5,615.1 866.9,619.0 867.3,619.2 867.7,623.3 868.0,625.0 868.1,625.2 868.5,629.3 868.8,632.4 869.2,636.4 869.4,637.0 869.6,637.2 870.0,641.4 870.4,638.1 870.8,640.6 871.2,639.3 871.5,642.6 871.9,635.2 872.3,639.4 872.7,646.9 873.1,646.2 873.5,650.2 873.8,643.1 874.2,647.6 874.6,648.1 875.0,652.5 875.4,648.1 875.4,645.2 875.8,648.9 876.1,647.0 876.5,645.3 876.9,650.8 877.3,642.4 877.7,645.1 878.1,652.1 878.4,645.4 878.8,646.8 879.2,646.9 879.6,647.5 880.0,646.4 880.4,641.1 880.8,642.2 881.1,645.2 881.5,642.3 881.9,640.0 882.3,644.9 882.7,644.4 883.1,648.1 883.4,639.1 883.8,640.5 884.2,640.6 884.6,643.9 885.0,640.3 885.4,642.5 885.7,634.4 886.1,642.3 886.5,637.9 886.9,639.9 887.3,640.7 887.3,639.6 887.7,636.4 888.0,643.3 888.4,642.0 888.8,639.7 889.2,641.6 889.6,637.7 890.0,639.0 890.4,641.5 890.7,644.6 891.1,644.9 891.5,640.9 891.9,638.8 892.3,638.7 892.7,648.8 893.0,646.8 893.3,644.6 893.4,651.1 893.8,648.3 894.2,645.0 894.6,644.8 895.0,648.7 895.3,647.0 895.7,648.4 896.1,645.1 896.5,641.8 896.9,639.4 897.3,639.9 897.6,642.6 898.0,642.2 898.4,641.7 898.8,640.6 899.2,637.7 899.6,638.7 900.0,632.9 900.3,636.1 900.7,630.1 901.1,632.3 901.5,631.4 901.9,631.3 902.2,631.7 902.3,638.4 902.6,632.3 903.0,631.3 903.4,634.0 903.8,635.9 904.2,636.3 904.6,636.1 904.9,639.8 905.3,638.2 905.7,633.4 906.1,635.8 906.5,630.1 906.9,633.1 907.2,629.9 907.6,633.5 908.0,638.5 908.4,632.5 908.8,636.4 909.2,628.9 909.6,636.3 909.9,628.5 910.3,632.6 910.7,637.1 911.1,633.3 911.5,633.7 911.9,634.2 912.2,633.5 912.6,633.6 912.6,628.2 913.0,630.1 913.4,629.5 913.8,626.2 914.2,629.7 914.5,630.9 914.9,620.4 915.3,622.8 915.7,623.1 916.1,621.9 916.5,620.1 916.8,615.1 917.0,619.6 917.2,619.0 917.6,617.5 918.0,619.6 918.4,615.9 918.8,610.0 919.2,610.3 919.5,616.1 919.9,612.2 920.0,612.0 920.3,610.6 920.7,608.6 921.1,607.9 921.5,606.4 921.8,604.7 922.2,603.7 922.3,604.0 922.6,605.8 923.0,608.2 923.4,610.4 923.8,612.4 924.0,615.0 924.1,614.7 924.5,619.4 924.9,622.9 925.3,626.0 925.7,629.1 926.0,631.0 926.1,630.6 926.4,628.4 926.8,626.3 927.2,630.3 927.6,626.3 928.0,633.3 928.4,628.6 928.8,625.5 929.1,625.6 929.5,621.7 929.9,624.8 930.3,627.7 930.7,636.3 931.1,625.8 931.3,627.0 931.4,628.0 931.8,629.0 932.2,630.7 932.6,632.9 933.0,631.9 933.4,635.1 933.7,636.9 934.1,637.5 934.5,638.8 934.9,640.5 935.3,642.8 935.7,643.2 936.0,644.9 936.4,647.1 936.5,646.7 936.8,646.2 937.2,646.3 937.6,645.0 938.0,644.1 938.4,640.3 938.7,642.3 939.1,644.2 939.5,649.0 939.9,646.1 940.3,640.5 940.7,643.9 941.0,651.2 941.4,647.4 941.8,643.3 942.2,645.2 942.6,647.9 943.0,652.3 943.3,653.7 943.7,648.1 944.1,647.9 944.5,654.0 944.9,645.1 945.3,652.2 945.6,648.8 946.0,648.6 946.4,653.5 946.8,652.7 947.0,648.4 947.2,646.8 947.6,651.2 948.0,653.1 948.3,655.1 948.7,644.0 949.1,654.3 949.5,651.3 949.9,654.6 950.3,653.8 950.6,652.5 951.0,653.1 951.4,652.9 951.8,649.2 952.2,648.6 952.6,650.0 952.9,648.5 953.3,645.0 953.7,644.1 954.1,650.9 954.5,649.1 954.9,649.9 955.2,646.9 955.6,654.8 956.0,650.1 956.4,645.0 956.8,654.3 957.2,645.8 957.4,649.0 957.6,649.8 957.9,647.1 958.3,644.3 958.7,641.1 959.1,640.6 959.5,640.1 959.9,638.1 960.2,635.7 960.6,632.4 961.0,632.0 961.0,631.4 961.4,633.1 961.8,635.8 962.2,636.7 962.5,639.0 962.9,639.1 963.3,641.4 963.7,644.4 964.0,645.0 964.1,644.1 964.5,650.0 964.8,653.2 965.2,650.1 965.6,645.4 966.0,653.4 966.4,643.8 966.8,650.8 967.2,648.5 967.5,653.4 967.8,652.9 967.9,650.5 968.3,655.6 968.7,653.8 969.1,648.8 969.5,647.7 969.8,656.4 970.2,648.3 970.6,651.4 971.0,647.8 971.4,646.8 971.8,643.7 972.1,648.7 972.5,648.3 972.9,650.2 973.3,644.6 973.7,640.0 974.1,642.0 974.4,644.3 974.8,644.1 975.2,645.9 975.6,641.8 976.0,643.8 976.4,642.2 976.8,648.1 977.1,644.4 977.5,644.3 977.9,643.5 978.3,645.4 978.3,639.5 978.7,641.1 979.1,642.1 979.4,636.4 979.8,646.9 980.2,646.9 980.6,643.8 981.0,651.4 981.4,645.9 981.7,648.6 982.1,646.0 982.5,644.0 982.9,636.8 983.3,643.7 983.7,641.6 984.0,637.2 984.4,640.9 984.8,643.8 985.2,642.9 985.6,640.8 986.0,639.3 986.4,643.8 986.7,638.4 987.1,641.2 987.5,643.7 987.9,638.9 988.3,644.9 988.7,638.5 988.7,643.2 989.0,641.5 989.4,643.4 989.8,644.6 990.2,641.0 990.6,643.2 991.0,638.7 991.3,637.7 991.7,640.0 992.1,638.8 992.5,639.2 992.9,642.8 993.3,637.2 993.6,641.5 994.0,633.0 994.4,634.6 994.8,629.7 995.2,634.6 995.6,640.9 996.0,636.1 996.3,639.1 996.7,631.7 997.1,632.5 997.5,636.4 997.9,636.9 998.3,636.2 998.6,627.3 999.0,633.4 999.4,633.1 999.8,634.9 1000.2,635.2 1000.6,632.0 1000.7,627.8 1000.9,630.3 1001.3,629.2 1001.7,628.5 1002.1,631.8 1002.5,635.2 1002.9,629.7 1003.2,628.7 1003.6,625.8 1004.0,624.1 1004.4,629.7 1004.8,626.7 1005.2,627.2 1005.6,625.8 1005.9,629.2 1006.3,623.5 1006.7,630.2 1007.1,627.2 1007.5,631.6 1007.9,625.3 1008.2,630.1 1008.6,627.7 1009.0,625.3 1009.4,626.5 1009.6,625.0 1009.8,623.8 1010.2,619.7 1010.5,617.7 1010.9,612.9 1011.3,610.1 1011.7,607.5 1012.0,605.0 1012.1,604.2 1012.5,601.1 1012.8,594.3 1013.2,591.0 1013.6,587.9 1014.0,582.0 1014.4,586.7 1014.8,591.3 1015.2,596.8 1015.5,599.1 1015.9,604.5 1016.0,605.0 1016.3,611.9 1016.7,619.0 1017.0,625.0 1017.1,624.6 1017.5,625.5 1017.8,630.4 1018.2,629.7 1018.6,634.9 1019.0,633.9 1019.4,624.9 1019.8,632.1 1020.1,631.5 1020.5,633.3 1020.9,629.6 1021.3,627.5 1021.7,627.8 1022.1,630.3 1022.4,627.7 1022.8,630.6 1023.2,628.6 1023.6,625.9 1024.0,626.8 1024.4,635.2 1024.8,626.3 1025.1,628.9 1025.5,629.7 1025.9,629.4 1026.0,631.5 1026.3,630.1 1026.7,636.6 1027.1,630.3 1027.4,628.6 1027.8,627.6 1028.2,628.6 1028.6,623.3 1029.0,623.9 1029.4,618.2 1029.7,623.3 1030.1,623.5 1030.5,623.5 1030.9,616.7 1031.3,625.2 1031.7,621.0 1032.0,615.6 1032.0,614.8 1032.4,615.8 1032.8,611.8 1033.2,619.6 1033.6,614.2 1034.0,612.8 1034.4,616.5 1034.7,616.0 1035.1,614.9 1035.5,615.4 1035.9,614.5 1036.3,619.4 1036.7,618.0 1037.0,610.7 1037.4,614.1 1037.8,618.5 1038.2,614.2 1038.6,619.4 1038.7,616.2 1039.0,617.1 1039.3,609.6 1039.7,619.2 1040.1,616.2 1040.5,617.5 1040.9,616.5 1041.3,616.8 1041.6,615.8 1042.0,618.9 1042.4,616.8 1042.8,613.5 1043.0,614.8 1043.2,617.4 1043.6,616.8 1044.0,611.0 1044.3,611.7 1044.7,620.8 1045.1,619.5 1045.5,627.1 1045.9,615.1 1046.3,619.4 1046.6,619.4 1047.0,622.0 1047.0,622.5 1047.4,624.9 1047.8,626.0 1048.2,625.8 1048.6,628.0 1048.9,627.8 1049.3,629.9 1049.7,631.0 1050.1,632.4 1050.5,632.5 1050.9,634.9 1051.2,635.0 1051.6,636.7 1052.0,638.0 1052.4,638.5 1052.8,640.8 1053.0,641.0 1053.2,640.4 1053.6,643.2 1053.9,648.2 1054.3,641.0 1054.7,642.5 1055.1,642.8 1055.5,647.0 1055.9,645.2 1056.2,647.7 1056.6,647.8 1057.0,640.8 1057.4,644.9 1057.8,640.6 1058.2,645.6 1058.5,646.3 1058.8,649.9 1058.9,649.7 1059.3,648.0 1059.7,653.2 1060.1,652.4 1060.5,646.9 1060.8,648.5 1061.2,650.2 1061.6,653.8 1062.0,647.0 1062.4,647.2 1062.8,648.7 1063.2,651.4 1063.5,649.7 1063.9,651.3 1064.3,648.6 1064.7,647.7 1065.1,646.5 1065.5,650.7 1065.8,645.3 1066.2,649.3 1066.6,647.4 1067.0,648.8 1067.4,638.9 1067.8,643.4 1068.1,644.6 1068.5,647.4 1068.9,651.7 1069.3,657.5 1069.7,653.9 1070.1,653.5 1070.4,651.8 1070.8,648.9 1071.2,651.3 1071.6,642.8 1072.0,651.5 1072.4,648.4 1072.8,650.1 1073.1,646.4 1073.5,647.4 1073.7,648.4 1073.9,650.0 1074.3,651.5 1074.7,648.8 1075.1,649.5 1075.4,651.3 1075.8,645.0 1076.2,648.7 1076.6,643.5 1077.0,648.0 1077.4,650.8 1077.7,646.9 1078.1,655.4 1078.5,650.2 1078.9,652.5 1079.3,649.1 1079.7,649.2 1080.0,650.6 1080.4,648.5 1080.8,646.3 1081.2,643.7 1081.6,650.8 1082.0,644.8 1082.4,643.9 1082.7,643.2 1083.1,639.0 1083.5,642.2 1083.9,646.7 1084.3,646.1 1084.7,644.8 1085.0,647.4 1085.4,647.9 1085.8,646.4 1086.2,649.1 1086.6,644.1 1087.0,649.3 1087.3,644.2 1087.7,647.3 1088.1,649.5 1088.5,648.0 1088.9,646.7 1089.3,654.9 1089.6,654.3 1090.0,644.2 1090.4,649.3 1090.8,645.9 1091.2,648.9 1091.6,643.4 1092.0,646.8 1092.3,646.9 1092.7,650.2 1093.0,648.5 1093.1,644.4 1093.5,646.0 1093.9,642.1 1094.3,643.2 1094.6,641.8 1095.0,639.0 1095.4,647.1 1095.8,638.8 1096.2,642.5 1096.6,643.9 1096.9,642.7 1097.3,638.3 1097.7,639.8 1098.1,644.3 1098.5,644.2 1098.9,646.2 1099.2,636.7 1099.6,643.2 1100.0,642.2 1100.4,644.8 1100.8,637.1 1101.0,641.5 1101.2,644.0 1101.6,637.6 1101.9,637.5 1102.3,633.9 1102.7,639.4 1103.1,632.8 1103.5,632.7 1103.9,633.0 1104.2,632.1 1104.5,635.2 1104.6,631.3 1105.0,629.9 1105.4,635.0 1105.8,634.9 1106.2,635.1 1106.5,635.1 1106.9,638.9 1107.3,635.1 1107.7,637.3 1108.0,637.5 1108.1,635.4 1108.5,641.3 1108.8,645.3 1109.2,642.1 1109.6,639.9 1110.0,641.6 1110.4,637.9 1110.8,635.9 1111.2,640.7 1111.5,635.3 1111.9,641.8 1112.3,641.8 1112.7,642.8 1113.1,643.1 1113.5,643.2 1113.8,641.2 1114.2,640.3 1114.6,644.4 1115.0,646.4 1115.0,647.0 1115.4,647.5 1115.8,640.1 1116.1,640.3 1116.5,646.2 1116.9,643.5 1117.3,650.7 1117.7,647.4 1118.1,641.1 1118.4,643.9 1118.8,649.9 1119.2,641.1 1119.6,646.2 1120.0,642.2 1120.4,652.5 1120.8,646.4 1121.1,643.4 1121.5,641.6 1121.9,643.4 1122.3,637.8 1122.7,643.9 1123.1,651.6 1123.4,645.4 1123.8,645.2 1124.2,642.4 1124.6,645.2 1125.0,643.9 1125.4,644.3 1125.4,645.0 1125.7,644.8 1126.1,642.9 1126.5,640.6 1126.9,640.2 1127.3,637.4 1127.7,636.3 1128.0,635.1 1128.4,634.1 1128.8,632.6 1129.0,632.0 1129.2,630.7 1129.6,629.6 1130.0,626.7 1130.4,625.1 1130.7,624.2 1131.1,620.4 1131.3,620.0 1131.5,620.9 1131.9,623.7 1132.3,626.1 1132.7,630.1 1133.0,630.3 1133.4,635.4 1133.5,635.0 1133.8,637.0 1134.2,637.6 1134.6,639.5 1135.0,641.3 1135.3,644.1 1135.7,646.4 1135.8,647.0 1136.1,645.4 1136.5,646.6 1136.9,651.0 1137.3,646.6 1137.6,650.3 1138.0,646.9 1138.4,648.4 1138.8,648.7 1139.2,647.3 1139.6,650.2 1140.0,646.2 1140.3,647.5 1140.7,646.1 1141.1,644.0 1141.5,646.7 1141.9,647.9 1142.3,650.4 1142.6,646.8 1143.0,649.8 1143.4,648.4 1143.8,648.6 1144.2,651.0 1144.6,653.6 1144.9,651.4 1145.3,650.6 1145.7,650.1 1146.1,655.5 1146.5,647.2 1146.9,653.8 1147.2,645.6 1147.6,648.2 1147.7,650.8 1148.0,650.4 1148.4,656.2 1148.8,652.9 1149.2,650.8 1149.6,654.0 1149.9,650.3 1150.3,646.7 1150.7,652.0 1151.1,651.9 1151.5,651.2 1151.9,643.9 1152.2,652.5 1152.6,646.3 1153.0,649.2 1153.4,650.4 1153.8,652.5 1154.2,641.9 1154.5,643.2 1154.9,650.3 1155.3,645.9 1155.7,643.6 1156.1,640.0 1156.5,644.8 1156.8,643.5 1157.2,639.7 1157.6,653.0 1158.0,639.5 1158.4,643.8 1158.8,645.9 1159.2,646.0 1159.5,648.6 1159.9,645.9 1160.3,644.4 1160.7,645.6 1161.1,641.4 1161.5,644.4 1161.8,654.2 1162.2,647.0 1162.6,647.9 1162.6,653.2 1163.0,651.7 1163.4,648.6 1163.8,650.7 1164.1,648.3 1164.5,646.2 1164.9,649.1 1165.3,647.1 1165.7,651.6 1166.1,646.6 1166.4,645.7 1166.8,649.1 1167.2,647.4 1167.6,646.5 1168.0,644.2 1168.4,648.0 1168.8,647.2 1169.1,650.8 1169.5,647.8 1169.9,644.3 1170.3,651.4 1170.7,657.5 1171.1,650.0 1171.4,646.8 1171.8,649.6 1172.2,642.9 1172.6,650.1 1173.0,648.1 1173.4,645.5 1173.7,652.5 1174.1,647.5 1174.5,644.5 1174.6,648.2 1174.9,651.4 1175.3,655.5 1175.7,653.0 1176.0,650.0 1176.4,647.4 1176.8,646.0 1177.2,648.1 1177.6,646.8 1178.0,649.0 1178.4,651.1 1178.7,646.1 1179.1,647.8 1179.5,650.2 1179.9,647.3 1180.3,646.1 1180.7,642.3 1181.0,643.0 1181.4,648.9 1181.8,644.9 1182.2,636.6 1182.6,641.8 1183.0,642.9 1183.3,641.3 1183.7,636.3 1184.1,637.7 1184.5,637.5 1184.9,635.8 1185.3,640.6 1185.6,631.4 1186.0,635.2 1186.4,639.7 1186.5,639.8 1186.8,640.3 1187.2,636.7 1187.6,638.5 1188.0,641.3 1188.3,643.0 1188.7,641.7 1189.1,642.3 1189.5,646.0 1189.9,644.9 1190.3,646.5 1190.6,642.9 1191.0,640.9 1191.4,643.0 1191.8,639.7 1192.2,643.1 1192.6,644.1 1192.9,634.6 1193.3,640.3 1193.7,642.6 1194.1,641.7 1194.5,637.6 1194.9,638.3 1195.2,643.2 1195.6,642.8 1196.0,639.2 1196.4,635.8 1196.8,634.3 1197.0,639.0 1197.2,639.2 1197.6,636.6 1197.9,634.6 1198.3,634.0 1198.7,632.7 1199.1,628.8 1199.5,628.0 1199.9,627.6 1200.0,625.0 1200.2,624.3 1200.6,621.0 1201.0,618.7 1201.4,613.9 1201.8,610.5 1202.2,608.0 1202.2,607.0 1202.5,611.6 1202.9,614.0 1203.3,616.4 1203.7,620.6 1204.1,622.8 1204.5,624.7 1204.5,625.0 1204.8,626.1 1205.2,629.0 1205.6,631.2 1206.0,632.7 1206.4,634.0 1206.8,635.0 1207.2,637.9 1207.4,637.7 1207.5,638.1 1207.9,634.7 1208.3,641.4 1208.7,634.9 1209.1,638.0 1209.5,636.4 1209.8,637.3 1210.2,637.2 1210.6,639.5 1211.0,636.7 1211.4,636.2 1211.8,634.3 1212.1,639.9 1212.5,635.6 1212.9,642.0 1213.3,638.7 1213.7,637.6 1214.1,638.4 1214.4,640.9 1214.8,644.9 1215.2,641.3 1215.6,639.9 1216.0,639.4 1216.3,647.2 1216.4,641.9 1216.8,643.2 1217.1,642.8 1217.5,648.9 1217.9,644.3 1218.3,643.1 1218.7,645.0 1219.1,641.6 1219.4,641.0 1219.8,643.1 1220.2,636.2 1220.6,646.0 1221.0,651.5 1221.4,644.7 1221.7,647.5 1222.1,644.2 1222.5,648.1 1222.9,645.7 1223.3,645.9 1223.7,641.0 1224.0,645.2 1224.4,645.4 1224.8,645.9 1225.2,653.4 1225.3,645.7 1225.6,644.6 1226.0,642.9 1226.4,645.9 1226.7,649.9 1227.1,644.8 1227.5,644.8 1227.9,637.6 1228.3,644.8 1228.7,641.2 1229.0,646.3 1229.4,643.3 1229.8,641.8 1230.0,633.8 1230.2,638.8 1230.6,636.8 1231.0,639.8 1231.3,639.3 1231.7,641.0 1232.1,631.8 1232.5,633.8 1232.9,635.7 1233.3,635.8 1233.6,634.3 1234.0,636.6 1234.2,635.0 1234.4,638.3 1234.8,636.2 1235.2,635.4 1235.6,630.1 1236.0,627.9 1236.3,630.1 1236.7,637.1 1237.1,630.1 1237.5,637.5 1237.9,636.8 1238.3,638.0 1238.6,636.8 1239.0,638.3 1239.4,642.2 1239.8,639.6 1240.2,638.3 1240.2,637.2 1240.6,636.9 1240.9,642.7 1241.3,639.4 1241.7,638.0 1242.1,634.6 1242.5,639.5 1242.9,637.5 1243.2,636.2 1243.6,643.2 1244.0,639.0 1244.4,635.2 1244.8,639.8 1245.2,647.3 1245.6,643.5 1245.9,640.7 1246.2,642.0 1246.3,647.8 1246.7,648.3 1247.1,648.3 1247.5,647.2 1247.9,648.8 1248.2,650.9 1248.6,647.7 1249.0,646.6 1249.4,643.3 1249.8,648.1 1250.2,650.0 1250.5,646.1 1250.9,641.4 1251.3,646.8 1251.7,650.5 1252.1,643.7 1252.5,646.9 1252.8,649.4 1253.2,649.9 1253.6,641.4 1254.0,641.0 1254.4,646.4 1254.8,646.4 1255.2,644.7 1255.5,646.2 1255.9,644.4 1256.3,648.3 1256.7,639.9 1257.1,647.7 1257.5,643.1 1257.8,646.5 1258.2,643.7 1258.6,644.4 1259.0,648.1 1259.4,648.0 1259.8,653.3 1260.1,647.6 1260.5,648.1 1260.9,647.1 1261.0,646.9 1261.3,651.7 1261.7,646.7 1262.1,647.9 1262.4,647.1 1262.8,645.9 1263.2,645.8 1263.6,649.1 1264.0,645.2 1264.4,643.0 1264.8,643.2 1265.1,644.4 1265.5,641.4 1265.9,643.6 1266.3,639.4 1266.7,642.4 1267.1,644.7 1267.4,640.0 1267.8,639.6 1268.2,636.2 1268.6,640.7 1269.0,639.1 1269.4,640.2 1269.7,636.7 1270.1,640.7 1270.5,646.1 1270.9,642.7 1271.3,640.6 1271.5,637.8 1271.7,641.2 1272.0,641.4 1272.4,642.4 1272.8,637.6 1273.2,637.0 1273.6,635.6 1274.0,636.6 1274.4,638.8 1274.7,638.6 1275.1,643.6 1275.5,640.2 1275.9,643.0 1276.3,633.9 1276.7,642.0 1277.0,638.7 1277.4,638.3 1277.8,641.9 1278.0,640.6 1278.2,643.4 1278.6,640.2 1279.0,631.7 1279.3,631.6 1279.7,641.2 1280.1,634.5 1280.5,636.8 1280.9,631.5 1281.3,631.0 1281.6,631.6 1282.0,634.2 1282.0,632.2 1282.4,630.9 1282.8,634.1 1283.2,635.1 1283.6,631.7 1284.0,630.8 1284.3,628.9 1284.7,633.2 1285.1,635.3 1285.5,633.3 1285.9,634.0 1286.0,636.1 1286.3,636.7 1286.6,640.4 1287.0,641.4 1287.4,642.0 1287.8,645.0 1288.0,638.4 1288.2,643.0 1288.6,642.1 1288.9,638.4 1289.3,639.9 1289.7,645.5 1290.1,644.4 1290.5,642.7 1290.9,645.3 1291.2,650.1 1291.6,646.3 1292.0,645.6 1292.4,647.9 1292.8,643.0 1293.2,646.8 1293.6,651.0 1293.9,647.5 1294.0,645.2 1294.3,650.3 1294.7,652.8 1295.1,640.5 1295.5,647.9 1295.9,645.2 1296.2,647.2 1296.6,644.4 1297.0,654.6 1297.4,644.7 1297.8,645.6 1298.2,643.6 1298.5,643.8 1298.9,645.8 1299.3,647.3 1299.7,652.4 1300.1,647.9 1300.5,652.0 1300.8,644.7 1301.2,648.4 1301.6,644.4 1302.0,640.2 1302.4,656.4 1302.8,645.2 1303.2,648.9 1303.5,645.7 1303.9,645.5 1304.3,645.6 1304.7,651.8 1305.1,649.2 1305.5,649.9 1305.8,650.1 1306.2,646.3 1306.6,649.2 1307.0,647.3 1307.4,648.3 1307.8,645.6 1308.1,647.5 1308.5,648.2 1308.8,649.8 1308.9,644.5 1309.3,650.1 1309.7,641.8 1310.1,644.2 1310.4,645.6 1310.8,644.8 1311.2,638.7 1311.6,643.4 1312.0,647.0 1312.4,651.1 1312.8,646.9 1313.1,652.8 1313.5,642.1 1313.9,647.2 1314.3,648.1 1314.7,647.0 1315.1,647.3 1315.4,652.3 1315.8,645.5 1316.2,650.5 1316.6,651.2 1317.0,647.2 1317.4,642.1 1317.7,645.2 1318.1,644.8 1318.5,644.7 1318.9,648.8 1319.3,643.3 1319.7,653.1 1320.0,646.9 1320.4,641.3 1320.8,645.1 1321.2,650.8 1321.6,648.4 1322.0,645.9 1322.4,652.0 1322.7,647.0 1323.1,654.9 1323.5,646.8 1323.7,647.9 1323.9,646.5 1324.3,642.6 1324.7,645.9 1325.0,649.6 1325.4,647.6 1325.8,645.5 1326.2,648.1 1326.6,651.8 1327.0,651.1 1327.3,650.3 1327.7,651.1 1328.1,645.0 1328.5,649.7 1328.9,647.0 1329.3,649.9 1329.6,644.1 1330.0,646.6 1330.4,641.4 1330.8,646.5 1331.2,643.3 1331.6,645.5 1332.0,648.4 1332.3,646.4 1332.7,647.9 1333.1,651.4 1333.5,652.3 1333.9,642.5 1334.3,644.3 1334.6,647.9 1335.0,649.6 1335.4,647.3 1335.8,647.3 1336.2,647.7 1336.6,654.2 1336.9,646.4 1337.3,643.3 1337.7,642.2 1338.1,642.9 1338.5,649.4 1338.7,643.1 1338.9,649.7 1339.2,646.7 1339.6,646.5 1340.0,647.6 1340.4,648.7 1340.8,647.5 1341.2,641.8 1341.6,643.1 1341.9,643.8 1342.3,645.4 1342.7,644.5 1343.1,641.5 1343.5,644.7 1343.9,648.9 1344.2,649.6 1344.6,643.4 1345.0,646.6 1345.4,643.1 1345.8,640.7 1346.2,643.6 1346.5,640.7 1346.9,646.0 1347.3,644.3 1347.6,642.0 1347.7,641.8 1348.1,638.8 1348.5,639.0 1348.8,637.9 1349.2,635.2 1349.6,634.8 1350.0,633.0 1350.4,629.6 1350.6,630.0 1350.8,629.3 1351.2,628.1 1351.5,629.4 1351.9,627.5 1352.3,627.3 1352.7,627.8 1353.1,628.1 1353.5,628.7 1353.8,624.4 1354.2,628.2 1354.6,625.9 1355.0,627.5 1355.0,625.3 1355.4,626.9 1355.8,626.4 1356.1,628.6 1356.5,628.4 1356.9,629.3 1357.3,625.7 1357.7,626.2 1358.1,625.6 1358.4,624.4 1358.8,627.0 1359.2,629.6 1359.6,628.2 1360.0,623.9 1360.0,627.0 1360.4,629.4 1360.8,625.2 1361.1,631.6 1361.5,633.8 1361.9,635.4 1362.3,634.4 1362.7,633.4 1363.0,635.0 1363.1,634.1 1363.4,638.1 1363.8,638.5 1364.2,641.5 1364.6,643.6 1365.0,645.1 1365.4,646.1 1365.7,649.6 1366.0,650.0 1366.1,650.2 1366.5,652.1 1366.9,652.9 1367.3,653.4 1367.7,653.3 1368.0,647.7 1368.4,648.5 1368.8,649.9 1369.2,650.7 1369.6,651.5 1370.0,650.3 1370.4,649.0 1370.7,652.9 1371.1,651.4 1371.5,651.7 1371.9,650.4 1372.3,647.4 1372.7,648.5 1373.0,649.6 1373.4,647.3 1373.8,648.2 1374.2,650.2 1374.6,648.7 1375.0,651.8 1375.3,651.6 1375.7,651.4 1376.1,651.0 1376.5,653.1 1376.9,652.1 1377.3,651.8 1377.6,646.8 1378.0,646.2 1378.4,653.3 1378.8,646.9 1379.2,646.7 1379.6,644.9 1380.0,647.5 1380.0,646.7 1380.3,651.4 1380.7,643.9 1381.1,646.3 1381.5,648.6 1381.9,647.7 1382.3,646.2 1382.6,646.7 1383.0,645.6 1383.4,650.2 1383.8,651.0 1384.2,650.0 1384.6,648.6 1384.9,652.7 1385.3,651.1 1385.7,648.3 1386.1,648.5 1386.5,647.8 1386.9,648.6 1387.2,651.1 1387.6,647.8 1388.0,648.2 1388.4,650.1 1388.8,647.0 1389.2,648.1 1389.6,651.0 1389.9,652.4 1390.3,646.0 1390.7,650.6 1391.1,648.0 1391.5,650.3 1391.9,650.1 1392.2,653.8 1392.6,651.7 1393.0,650.5 1393.4,649.6 1393.8,648.7 1394.2,653.2 1394.5,652.6 1394.9,653.3 1395.3,653.6 1395.7,648.2 1396.1,649.2 1396.5,648.9 1396.8,650.3 1397.2,652.4 1397.6,653.4 1398.0,651.5 1398.4,646.5 1398.8,648.7 1399.2,645.9 1399.5,648.7 1399.9,647.8 1400.3,651.5 1400.7,651.9 1401.1,653.0 1401.5,653.2 1401.8,649.9 1402.2,653.3 1402.6,652.0 1403.0,653.1 1403.4,655.2 1403.8,649.1 1404.1,649.9 1404.5,654.3 1404.9,650.3 1405.3,651.3 1405.7,651.9 1406.1,651.0 1406.4,647.2 1406.8,649.1 1407.2,647.8 1407.6,652.8 1408.0,650.5 1408.4,651.0 1408.8,646.1 1409.1,649.6 1409.5,649.8 1409.9,651.3 1410.3,646.5 1410.7,651.4 1411.1,653.9 1411.4,655.1 1411.8,648.9 1412.2,647.5 1412.6,645.7 1413.0,651.3 1413.4,651.5 1413.7,650.2 1414.1,647.8 1414.5,652.0 1414.9,652.6 1415.3,649.7 1415.7,651.1 1416.0,653.1 1416.4,652.2 1416.8,654.5 1417.2,650.5 1417.6,651.7 1418.0,649.2 1418.4,649.5 1418.7,649.6 1419.1,649.1 1419.5,650.8 1419.9,648.6 1420.0,648.8 1420.3,646.9 1420.7,647.3 1421.0,652.6 1421.4,648.1 1421.8,652.7 1422.2,649.6 1422.6,644.6 1423.0,647.8 1423.3,647.2 1423.7,648.3 1424.1,648.5 1424.5,646.5 1424.9,649.9 1425.3,647.6 1425.6,649.4 1426.0,646.9 1426.4,647.7 1426.8,652.2 1427.2,648.6 1427.6,646.9 1428.0,648.4 1428.3,650.8 1428.7,648.7 1429.1,647.4 1429.5,650.9 1429.9,653.3 1430.3,650.2 1430.6,650.0 1431.0,650.2 1431.4,656.1 1431.8,650.3 1432.2,653.6 1432.6,650.3 1432.9,651.6 1433.3,646.7 1433.7,650.4 1434.0,650.4 1434.1,650.0 1434.5,649.4 1434.9,647.6 1435.2,648.6 1435.6,650.2 1436.0,648.7 1436.4,648.8 1436.8,647.5 1437.2,646.7 1437.6,646.7 1437.9,652.0 1438.3,645.1 1438.7,645.4 1439.1,645.7 1439.5,644.2 1439.9,644.2 1440.2,647.1 1440.6,648.8 1441.0,646.7 1441.4,653.1 1441.8,647.9 1442.2,648.5 1442.5,644.6 1442.9,648.4 1443.3,650.2 1443.7,645.3 1444.1,648.8 1444.5,645.2 1444.8,644.5 1445.2,647.3 1445.6,646.5 1446.0,649.6 1446.4,645.9 1446.8,647.0 1447.2,641.7 1447.5,646.4 1447.9,649.1 1448.3,646.8 1448.7,646.7 1449.1,646.8 1449.5,641.9 1449.8,641.0 1450.2,644.3 1450.6,644.3 1451.0,644.6 1451.4,642.9 1451.8,647.1 1452.1,643.1 1452.5,645.2 1452.9,645.0 1453.3,647.3 1453.7,646.2 1454.1,644.4 1454.4,649.9 1454.8,643.3 1455.2,645.3 1455.6,644.1 1456.0,644.1 1456.4,645.7 1456.8,645.5 1457.1,645.1 1457.5,639.3 1457.9,644.1 1458.3,643.6 1458.7,640.9 1459.1,642.9 1459.4,648.4 1459.8,649.0 1460.2,646.8 1460.5,644.5 1460.6,644.2 1461.0,648.7 1461.4,644.9 1461.7,643.3 1462.1,647.7 1462.5,643.3 1462.9,643.7 1463.3,647.1 1463.7,640.2 1464.0,642.6 1464.4,644.2 1464.8,645.7 1465.2,642.1 1465.6,643.9 1466.0,643.9 1466.4,649.1 1466.7,646.3 1467.1,642.3 1467.5,646.0 1467.9,646.5 1468.3,645.2 1468.7,645.5 1469.0,644.7 1469.4,640.7 1469.8,643.3 1470.2,646.3 1470.6,647.6 1471.0,648.7 1471.3,644.9 1471.7,646.6 1472.1,641.9 1472.5,646.4 1472.9,644.9 1473.3,649.7 1473.6,645.4 1474.0,646.8 1474.4,645.3 1474.8,648.1 1475.2,650.4 1475.6,647.1 1476.0,653.0 1476.3,649.9 1476.7,647.3 1477.1,649.2 1477.5,648.0 1477.9,650.7 1478.3,649.9 1478.6,655.0 1479.0,653.0 1479.4,650.5 1479.8,653.3 1480.2,652.1 1480.6,649.6 1480.6,649.9 1480.9,650.3 1481.3,646.6 1481.7,652.2 1482.1,650.3 1482.5,652.1 1482.9,647.5 1483.2,648.2 1483.6,649.2 1484.0,648.9 1484.4,647.8 1484.8,645.4 1485.2,653.6 1485.6,652.1 1485.9,652.8 1486.3,653.7 1486.7,652.9 1487.1,650.9 1487.5,650.7 1487.9,650.5 1488.2,646.0 1488.6,649.6 1489.0,646.3 1489.4,648.9 1489.8,645.3 1490.2,648.7 1490.5,646.8 1490.9,652.4 1491.3,648.2 1491.7,649.3 1492.1,647.5 1492.5,647.8 1492.8,648.2 1493.2,648.0 1493.6,648.7 1494.0,647.8 1494.4,651.4 1494.8,647.7 1495.2,646.3 1495.5,649.9 1495.9,647.1 1496.3,649.8 1496.7,648.3 1497.1,647.0 1497.5,647.1 1497.8,646.4 1498.2,645.6 1498.6,650.3 1499.0,648.8 1499.4,646.0 1499.8,646.9 1500.1,648.0 1500.5,649.2 1500.6,649.5 1500.9,650.0 1501.3,651.0 1501.7,648.5 1502.1,648.1 1502.4,650.8 1502.8,647.5 1503.2,649.5 1503.6,650.8 1504.0,650.4 1504.4,651.1 1504.8,647.3 1505.1,648.5 1505.5,651.3 1505.9,644.7 1506.3,645.5 1506.7,650.3 1507.1,647.0 1507.4,645.0 1507.8,648.8 1508.2,648.6 1508.6,649.7 1509.0,646.4 1509.4,646.2 1509.7,646.4 1510.1,648.4 1510.5,645.3 1510.9,648.0 1511.3,650.1 1511.7,645.3 1512.0,647.7 1512.4,648.0 1512.8,648.7 1513.2,646.0 1513.6,645.4 1514.0,651.5 1514.4,645.3 1514.7,650.5 1515.1,643.8 1515.5,648.6 1515.9,647.9 1516.3,652.2 1516.7,653.0 1517.0,649.6 1517.4,645.4 1517.8,646.0 1518.2,646.8 1518.6,646.7 1519.0,648.9 1519.3,647.0 1519.7,646.9 1520.1,649.4 1520.5,648.5 1520.7,642.3 1520.9,644.6 1521.3,646.5 1521.6,650.5 1522.0,646.8 1522.4,652.1 1522.8,649.5 1523.2,651.8 1523.6,647.3 1524.0,647.2 1524.3,650.2 1524.7,648.4 1525.1,642.6 1525.5,645.7 1525.9,646.9 1526.3,647.8 1526.6,645.2 1527.0,649.3 1527.4,646.5 1527.8,648.7 1528.2,645.8 1528.6,645.5 1528.9,646.0 1529.3,644.0 1529.7,647.5 1530.1,648.4 1530.5,650.0 1530.9,646.9 1531.2,645.4 1531.6,646.7 1532.0,648.8 1532.4,649.1 1532.8,651.5 1533.2,647.5 1533.6,646.6 1533.9,648.0 1534.3,647.6 1534.7,650.6 1535.1,647.3 1535.5,645.8 1535.9,645.1 1536.2,645.7 1536.6,647.3 1537.0,647.6 1537.4,648.5 1537.8,647.2 1538.2,648.8 1538.5,649.5 1538.9,649.9 1539.3,648.9 1539.7,646.4 1540.1,645.4 1540.5,650.6 1540.8,647.2 1540.8,646.5 1541.2,647.8 1541.6,649.8 1542.0,647.2 1542.4,649.2 1542.8,648.5 1543.2,650.6 1543.5,648.0 1543.9,650.7 1544.3,653.1 1544.7,651.8 1545.1,651.7 1545.5,650.6 1545.8,651.4 1546.2,649.1 1546.6,649.3 1547.0,644.2 1547.4,643.4 1547.8,646.8 1548.1,645.2 1548.5,645.2 1548.9,643.8 1549.3,648.9 1549.7,643.7 1550.1,646.6 1550.4,643.8 1550.8,646.3 1551.2,651.9 1551.6,651.3 1552.0,645.2 1552.4,644.6 1552.8,649.8 1553.1,644.7 1553.5,642.8 1553.9,647.5 1554.3,645.7 1554.7,644.9 1555.1,650.0 1555.4,646.7 1555.8,645.9 1556.2,647.1 1556.6,646.8 1557.0,649.4 1557.4,647.2 1557.7,651.0 1558.1,650.2 1558.5,651.3 1558.9,648.5 1559.3,645.6 1559.7,647.1 1560.0,646.5 1560.4,644.0 1560.8,645.3 1561.0,649.0 1561.2,642.1 1561.6,644.8 1562.0,644.2 1562.4,646.2 1562.7,645.3 1563.1,647.3 1563.5,645.5 1563.9,645.4 1564.3,643.9 1564.7,642.9 1565.0,647.2 1565.4,644.8 1565.8,647.1 1566.2,648.2 1566.6,648.7 1567.0,647.1 1567.3,650.0 1567.7,645.4 1568.1,651.5 1568.5,652.3 1568.9,650.5 1569.3,647.6 1569.6,651.4 1570.0,649.1 1570.4,649.5 1570.8,653.6 1571.2,651.4 1571.6,650.4 1572.0,650.9 1572.3,657.1 1572.7,650.7 1573.1,654.7 1573.5,651.4 1573.9,653.4 1574.3,650.0 1574.6,648.7 1575.0,650.2 1575.0,649.8 1575.4,656.6 1575.8,652.4 1576.2,649.6 1576.6,651.6 1576.9,651.1 1577.3,649.0 1577.7,648.5 1578.1,647.6 1578.5,648.1 1578.9,649.8 1579.2,646.3 1579.6,645.8 1580.0,646.0 1580.4,647.5 1580.8,646.0 1581.2,646.5 1581.6,646.1 1581.9,641.3 1582.3,642.2 1582.7,642.6 1583.1,641.1 1583.5,639.4 1583.9,638.1 1584.2,637.0 1584.6,634.1 1585.0,635.8 1585.0,636.9 1585.4,634.6 1585.8,642.2 1586.2,639.4 1586.5,641.9 1586.9,642.5 1587.3,638.6 1587.7,637.3 1588.1,644.3 1588.5,643.3 1588.8,641.6 1589.2,645.1 1589.6,644.2 1590.0,641.3 1590.4,644.5 1590.8,642.9 1591.2,646.6 1591.5,650.5 1591.9,647.0 1592.0,651.4 1592.3,646.3 1592.7,647.8 1593.1,649.8 1593.5,650.6 1593.8,647.8 1594.2,648.7 1594.6,651.3 1595.0,643.3 1595.4,645.1 1595.8,652.2 1596.1,654.0 1596.5,651.0 1596.9,650.6 1597.3,652.1 1597.7,651.3 1598.1,649.7 1598.4,652.2 1598.8,651.9 1599.2,653.7 1599.6,653.3 1600.0,654.5 1600.4,653.3 1600.8,649.4 1601.0,654.1 1601.1,645.4 1601.5,651.3 1601.9,651.1 1602.3,649.1 1602.7,653.4 1603.1,647.3 1603.4,646.4 1603.8,648.2 1604.2,648.6 1604.6,648.8 1605.0,646.7 1605.4,648.1 1605.7,645.2 1606.1,645.4 1606.5,646.4 1606.9,642.6 1607.3,644.6 1607.7,643.1 1608.0,644.8 1608.4,641.4 1608.8,642.5 1609.2,642.9 1609.6,642.9 1610.0,640.8 1610.4,641.3 1610.7,638.9 1611.1,642.8 1611.5,644.3 1611.9,642.6 1612.3,643.0 1612.7,642.4 1613.0,640.6 1613.4,642.4 1613.8,641.1 1614.2,640.8 1614.6,642.6 1615.0,642.2 1615.0,640.6 1615.3,639.9 1615.7,641.7 1616.1,642.1 1616.5,642.7 1616.9,644.9 1617.3,646.2 1617.6,646.1 1618.0,643.9 1618.4,648.4 1618.8,643.5 1619.2,646.4 1619.6,649.3 1620.0,651.4 1620.3,647.6 1620.7,647.1 1621.1,647.0 1621.5,644.9 1621.9,647.9 1622.0,648.0 1622.3,647.3 1622.6,651.8 1623.0,647.0 1623.4,652.8 1623.8,651.7 1624.2,651.9 1624.6,649.3 1624.9,649.8 1625.3,647.2 1625.7,652.9 1626.1,652.1 1626.5,653.8 1626.9,651.2 1627.2,654.4 1627.6,651.3 1628.0,649.6 1628.4,655.4 1628.8,656.9 1629.2,648.4 1629.6,656.5 1629.9,654.6 1630.3,653.7 1630.7,651.4 1631.0,652.4 1631.1,656.7 1631.5,653.4 1631.9,654.7 1632.2,654.9 1632.6,659.4 1633.0,656.7 1633.4,652.6 1633.8,654.5 1634.2,653.7 1634.5,652.6 1634.9,653.8 1635.3,656.9 1635.7,654.1 1636.1,655.6 1636.5,654.2 1636.8,654.6 1637.2,655.1 1637.6,655.0 1638.0,659.6 1638.4,659.0 1638.8,656.0 1639.2,656.3 1639.5,650.4 1639.9,653.4 1640.3,659.2 1640.7,652.9 1641.1,655.9 1641.5,655.7 1641.8,652.6 1642.2,653.9 1642.6,652.4 1643.0,654.3 1643.4,653.7 1643.8,657.7 1644.1,658.0 1644.5,654.9 1644.9,660.3 1645.3,653.7 1645.7,653.3 1646.1,653.6 1646.4,652.3 1646.8,654.1 1647.2,654.7 1647.6,656.2 1648.0,651.1 1648.4,651.5 1648.8,652.2 1649.1,653.2 1649.5,655.0 1649.9,653.5 1650.3,656.2 1650.7,651.3 1651.0,651.0 1651.1,652.5 1651.4,656.4 1651.8,654.5 1652.2,653.7 1652.6,653.2 1653.0,652.4 1653.4,652.7 1653.7,648.8 1654.1,649.9 1654.5,646.0 1654.9,648.5 1655.3,652.4 1655.7,652.5 1656.0,650.5 1656.4,646.3 1656.8,654.5 1657.2,652.3 1657.6,657.0 1658.0,651.5 1658.4,653.3 1658.7,650.7 1659.1,655.0 1659.5,654.3 1659.9,650.2 1660.0,655.7 1660.3,656.9 1660.7,652.7 1661.0,650.3 1661.4,653.8 1661.8,651.0 1662.2,648.2 1662.6,649.4 1663.0,652.3 1663.3,649.9 1663.7,656.1 1664.1,654.6 1664.5,653.3 1664.9,655.1 1665.3,650.2 1665.6,653.5 1666.0,649.1 1666.4,651.1 1666.8,653.5 1667.2,650.3 1667.6,650.8 1668.0,651.1 1668.3,654.0 1668.7,652.9 1669.1,650.2 1669.5,649.7 1669.9,647.5 1670.3,654.7 1670.6,654.9 1671.0,648.5 1671.4,655.0 1671.8,653.1 1672.2,654.6 1672.6,653.5 1672.9,653.0 1673.3,654.7 1673.7,654.0 1674.1,655.4 1674.5,652.9 1674.9,653.0 1675.2,654.1 1675.6,653.6 1676.0,652.6 1676.4,652.8 1676.8,655.7 1677.0,654.5 1677.2,651.9" stroke="#000" stroke-width="4.3" stroke-linejoin="round" stroke-linecap="round" fill="none"/>
<rect x="146.5" y="33.5" width="1536" height="1414.5" stroke="#000" stroke-width="7" fill="none"/>
<path d="M146.5 1448V1465M242.5 1448V1457.5M338.5 1448V1465M434.5 1448V1457.5M530.5 1448V1465M626.5 1448V1457.5M722.5 1448V1465M818.5 1448V1457.5M914.5 1448V1465M1010.5 1448V1457.5M1106.5 1448V1465M1202.5 1448V1457.5M1298.5 1448V1465M1394.5 1448V1457.5M1490.5 1448V1465M1586.5 1448V1457.5M1682.5 1448V1465" stroke="#000" stroke-width="6.5" fill="none"/>
<text x="146.6" y="1517.5" font-size="50" text-anchor="middle" fill="#000">5</text>
<text x="338.6" y="1517.5" font-size="50" text-anchor="middle" fill="#000">15</text>
<text x="530.6" y="1517.5" font-size="50" text-anchor="middle" fill="#000">25</text>
<text x="722.6" y="1517.5" font-size="50" text-anchor="middle" fill="#000">35</text>
<text x="914.6" y="1517.5" font-size="50" text-anchor="middle" fill="#000">45</text>
<text x="1106.6" y="1517.5" font-size="50" text-anchor="middle" fill="#000">55</text>
<text x="1298.6" y="1517.5" font-size="50" text-anchor="middle" fill="#000">65</text>
<text x="1490.6" y="1517.5" font-size="50" text-anchor="middle" fill="#000">75</text>
<text x="1682.6" y="1517.5" font-size="50" text-anchor="middle" fill="#000">85</text>
<text x="913.3" y="1606" font-size="80.8" text-anchor="middle" fill="#000">2θ (degree)</text>
<text transform="translate(85.4,763.2) rotate(-90)" x="0" y="0" font-size="80.3" text-anchor="middle" fill="#000">Intensity (a.u.)</text>
<text x="1439" y="553.8" font-size="76" fill="#000">MOP</text>
<text x="911.7" y="739.5" font-size="42.0" fill="#ff0000" letter-spacing="0.081"><tspan>KAl</tspan><tspan dy="11.21" font-size="27.3">2</tspan><tspan dy="-11.21">Si</tspan><tspan dy="11.21" font-size="27.3">3</tspan><tspan dy="-11.21">AlO</tspan><tspan dy="11.21" font-size="27.3">10</tspan><tspan dy="-11.21">(OH)</tspan><tspan dy="11.21" font-size="27.3">2</tspan></text>
<text x="1269.83" y="739.5" font-size="41.83" fill="#ff0000">(JCPDS No.07-0025)</text>
<text x="590.0" y="897.0" font-size="41.5" fill="#0000ff" letter-spacing="-0.146"><tspan>(K</tspan><tspan dy="10.38" font-size="29.26">0.82</tspan><tspan dy="-10.38">Na</tspan><tspan dy="10.38" font-size="29.26">0.18</tspan><tspan dy="-10.38">)(Fe</tspan><tspan dy="10.38" font-size="29.26">0.03</tspan><tspan dy="-10.38">Al</tspan><tspan dy="10.38" font-size="29.26">1.97</tspan><tspan dy="-10.38">)(AlSi</tspan><tspan dy="10.38" font-size="29.26">3</tspan><tspan dy="-10.38">)O</tspan><tspan dy="10.38" font-size="29.26">10</tspan><tspan dy="-10.38">(OH)</tspan><tspan dy="10.38" font-size="29.26">2</tspan></text>
<text x="1309.65" y="897.0" font-size="41.18" fill="#0000ff">(JCPDS No.80-0742)</text>
<text x="1067.2" y="1141.3" font-size="44.6" fill="#00f510" letter-spacing="-1.55"><tspan>Mn(CO</tspan><tspan dy="11.82" font-size="28.99">3</tspan><tspan dy="-11.82">)</tspan></text>
<text x="1246.18" y="1141.3" font-size="45.41" fill="#00f510">(JCPDS No.83-1763)</text>
<text x="1085.6" y="1341.0" font-size="45.0" fill="#8000fc" letter-spacing="0.3"><tspan>SiO</tspan><tspan dy="12.38" font-size="29.25">2</tspan></text>
<text x="1186.62" y="1341.0" font-size="44.62" fill="#8000fc">(JCPDS No.99-0088)</text>
</svg></body></html>
